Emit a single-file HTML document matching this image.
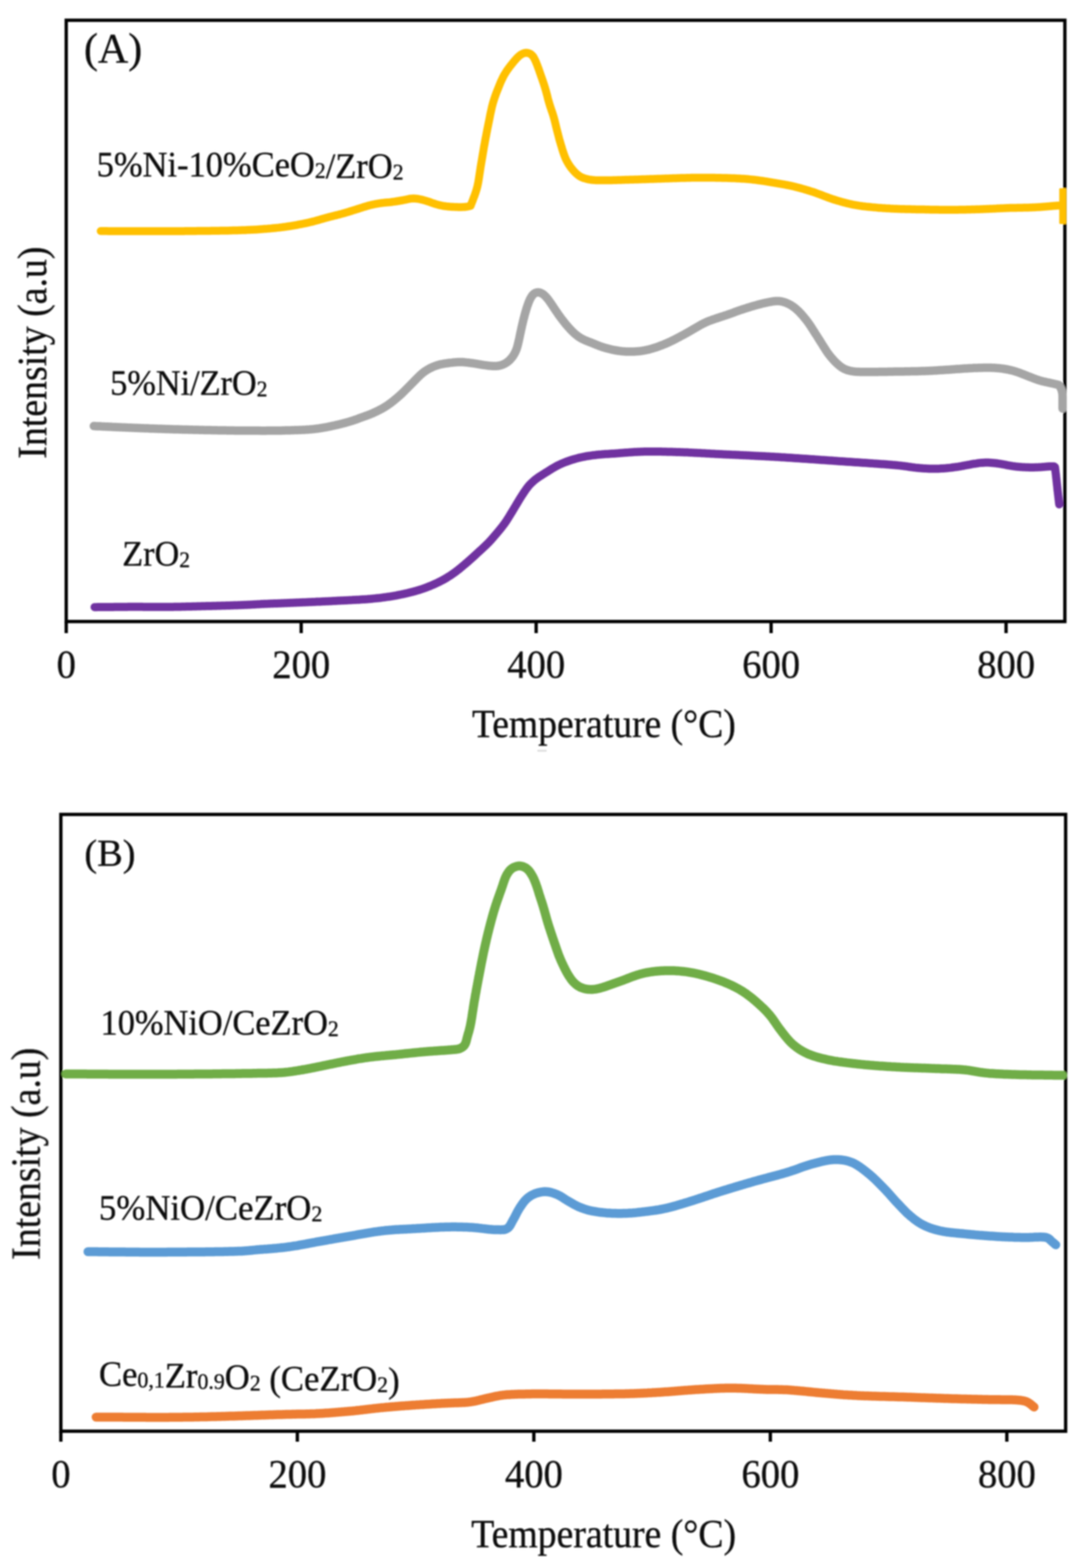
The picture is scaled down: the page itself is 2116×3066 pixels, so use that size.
<!DOCTYPE html>
<html><head><meta charset="utf-8"><title>TPR profiles</title>
<style>html,body{margin:0;padding:0;background:#fff;width:2116px;height:3066px;overflow:hidden}svg{display:block}
text{font-family:"Liberation Serif","Times New Roman",serif;fill:#111;stroke:#111;stroke-width:0.6}</style></head>
<body><svg width="2116" height="3066" viewBox="0 0 2116 3066"><defs><filter id="b" filterUnits="userSpaceOnUse" x="0" y="0" width="2116" height="3066"><feGaussianBlur stdDeviation="1.4"/></filter></defs><rect width="2116" height="3066" fill="#fff"/><g filter="url(#b)"><rect x="129.5" y="39.6" width="1953.0" height="1175.7" fill="none" stroke="#000" stroke-width="6.5"/><line x1="129.5" y1="1215.3" x2="129.5" y2="1238.0" stroke="#000" stroke-width="6.5"/><line x1="589.0" y1="1215.3" x2="589.0" y2="1238.0" stroke="#000" stroke-width="6.5"/><line x1="1048.5" y1="1215.3" x2="1048.5" y2="1238.0" stroke="#000" stroke-width="6.5"/><line x1="1508.0" y1="1215.3" x2="1508.0" y2="1238.0" stroke="#000" stroke-width="6.5"/><line x1="1967.5" y1="1215.3" x2="1967.5" y2="1238.0" stroke="#000" stroke-width="6.5"/><rect x="119.0" y="1592.5" width="1965.0" height="1206.0" fill="none" stroke="#000" stroke-width="6.5"/><line x1="119.0" y1="2798.5" x2="119.0" y2="2819.0" stroke="#000" stroke-width="6.5"/><line x1="581.5" y1="2798.5" x2="581.5" y2="2819.0" stroke="#000" stroke-width="6.5"/><line x1="1044.0" y1="2798.5" x2="1044.0" y2="2819.0" stroke="#000" stroke-width="6.5"/><line x1="1506.5" y1="2798.5" x2="1506.5" y2="2819.0" stroke="#000" stroke-width="6.5"/><line x1="1969.0" y1="2798.5" x2="1969.0" y2="2819.0" stroke="#000" stroke-width="6.5"/><path d="M197.0,451.8L200.0,451.8L203.0,451.8L206.0,451.8L209.0,451.8L212.0,451.9L215.0,451.9L218.0,451.9L221.0,451.9L224.0,451.9L227.0,451.9L230.0,451.9L233.0,451.9L236.0,451.9L239.0,451.9L242.0,452.0L245.0,452.0L248.1,452.0L251.1,452.0L254.1,452.0L257.1,452.0L260.1,452.0L263.1,452.0L266.1,452.0L269.1,452.0L272.1,452.0L275.1,452.0L278.1,452.0L281.1,452.0L284.1,452.0L287.1,452.0L290.1,452.0L293.1,452.0L296.1,452.0L299.1,452.0L302.1,452.0L305.1,452.0L308.1,452.0L311.1,452.0L314.1,452.0L317.1,452.0L320.1,452.0L323.1,452.0L326.1,452.0L329.1,452.0L332.1,452.0L335.1,452.0L338.1,452.0L341.1,452.0L344.1,451.9L347.1,451.9L350.2,451.9L353.2,451.9L356.2,451.9L359.2,451.9L362.2,451.8L365.2,451.8L368.2,451.8L371.2,451.8L374.2,451.8L377.2,451.7L380.2,451.7L383.2,451.7L386.2,451.6L389.2,451.6L392.2,451.6L395.2,451.6L398.2,451.5L401.2,451.5L404.2,451.5L407.2,451.4L410.2,451.4L413.2,451.3L416.2,451.3L419.2,451.3L422.2,451.2L425.2,451.2L428.2,451.2L431.2,451.1L434.2,451.1L437.2,451.0L440.2,451.0L443.2,450.9L446.2,450.9L449.2,450.8L452.2,450.7L455.2,450.6L458.2,450.5L461.2,450.5L464.3,450.4L467.3,450.3L470.3,450.2L473.3,450.1L476.3,450.0L479.3,449.9L482.3,449.7L485.3,449.6L488.3,449.5L491.3,449.3L494.3,449.2L497.3,449.0L500.3,448.9L503.3,448.7L506.2,448.5L509.2,448.3L512.2,448.1L515.2,447.8L518.2,447.6L521.2,447.4L524.2,447.1L527.2,446.9L530.2,446.6L533.2,446.3L536.2,446.0L539.2,445.7L542.2,445.4L545.1,445.1L548.1,444.7L551.1,444.4L554.1,444.0L557.1,443.6L560.0,443.2L563.0,442.7L566.0,442.3L568.9,441.8L571.9,441.3L574.9,440.8L577.8,440.3L580.8,439.8L583.7,439.2L586.7,438.7L589.6,438.1L592.6,437.5L595.5,436.9L598.4,436.3L601.4,435.7L604.3,435.0L607.2,434.3L610.2,433.6L613.1,432.9L616.0,432.1L618.9,431.3L621.8,430.5L624.6,429.7L627.5,428.8L630.4,428.0L633.3,427.2L636.2,426.3L639.1,425.6L642.0,424.8L644.9,424.0L647.8,423.3L650.7,422.6L653.6,421.8L656.5,421.1L659.5,420.4L662.4,419.6L665.3,418.9L668.2,418.1L671.1,417.3L673.9,416.5L676.8,415.6L679.7,414.8L682.6,413.9L685.4,413.0L688.3,412.1L691.2,411.2L694.0,410.3L696.9,409.4L699.8,408.5L702.6,407.6L705.5,406.7L708.4,405.8L711.2,404.8L714.1,404.0L717.0,403.1L719.8,402.3L722.7,401.5L725.7,400.8L728.6,400.1L731.5,399.5L734.5,398.9L737.4,398.4L740.4,397.9L743.4,397.4L746.3,397.0L749.3,396.6L752.3,396.3L755.3,396.0L758.3,395.7L761.3,395.5L764.3,395.2L767.2,394.8L770.2,394.4L773.2,394.0L776.1,393.5L779.1,393.0L782.1,392.5L785.0,392.0L788.0,391.5L790.9,390.9L793.9,390.3L796.8,389.7L799.7,389.0L802.7,388.5L805.7,388.2L808.7,388.1L811.7,388.2L814.6,388.5L817.6,388.9L820.6,389.5L823.5,390.1L826.4,390.8L829.3,391.6L832.2,392.4L835.1,393.3L837.9,394.2L840.8,395.2L843.6,396.2L846.4,397.2L849.3,398.2L852.1,399.1L855.0,399.9L857.9,400.7L860.8,401.4L863.8,402.0L866.7,402.6L869.7,403.0L872.7,403.4L875.6,403.7L878.6,404.0L881.6,404.2L884.6,404.4L887.6,404.6L890.6,404.7L893.6,404.8L896.6,404.9L899.6,404.9L902.6,404.9L905.6,404.8L908.6,404.7L911.6,404.3L914.5,403.8L917.5,403.2L920.4,402.5L921.4,399.7L922.5,396.9L923.6,394.1L924.7,391.3L925.7,388.5L926.8,385.7L927.9,382.9L928.9,380.0L929.9,377.2L930.8,374.4L931.7,371.5L932.5,368.6L933.3,365.7L934.0,362.8L934.6,359.9L935.2,356.9L935.7,354.0L936.2,351.0L936.7,348.0L937.1,345.1L937.6,342.1L938.0,339.1L938.5,336.2L938.9,333.2L939.4,330.2L939.8,327.3L940.3,324.3L940.8,321.3L941.3,318.4L941.8,315.4L942.3,312.5L942.8,309.5L943.3,306.5L943.8,303.6L944.3,300.6L944.8,297.7L945.3,294.7L945.8,291.7L946.3,288.8L946.8,285.8L947.4,282.9L947.9,279.9L948.4,277.0L949.0,274.0L949.5,271.1L950.1,268.1L950.7,265.2L951.2,262.2L951.8,259.3L952.4,256.3L952.9,253.4L953.5,250.5L954.1,247.5L954.7,244.6L955.3,241.6L955.9,238.7L956.5,235.7L957.1,232.8L957.7,229.9L958.2,226.9L958.8,224.0L959.4,221.0L960.1,218.1L960.7,215.2L961.4,212.2L962.0,209.3L962.8,206.4L963.5,203.5L964.3,200.6L965.2,197.7L966.1,194.9L967.0,192.0L968.0,189.2L969.0,186.4L970.0,183.5L971.1,180.7L972.2,177.9L973.3,175.1L974.4,172.3L975.5,169.6L976.6,166.8L977.8,164.0L978.9,161.2L980.1,158.5L981.4,155.8L982.7,153.1L984.0,150.4L985.4,147.7L986.9,145.1L988.5,142.6L990.1,140.0L991.7,137.5L993.5,135.1L995.2,132.7L997.0,130.3L998.9,127.9L1000.8,125.5L1002.6,123.2L1004.5,120.9L1006.4,118.6L1008.4,116.3L1010.4,114.1L1012.5,111.9L1014.7,109.9L1017.0,108.0L1019.5,106.4L1022.1,105.0L1024.9,103.9L1027.7,103.3L1030.7,103.3L1033.5,103.9L1036.3,105.0L1038.8,106.5L1040.9,108.5L1042.8,110.8L1044.3,113.3L1045.7,116.0L1047.0,118.7L1048.2,121.4L1049.3,124.2L1050.5,127.0L1051.5,129.8L1052.5,132.6L1053.6,135.4L1054.6,138.3L1055.5,141.1L1056.5,143.9L1057.5,146.8L1058.5,149.6L1059.5,152.4L1060.5,155.3L1061.5,158.1L1062.4,160.9L1063.4,163.8L1064.3,166.6L1065.2,169.5L1066.1,172.4L1066.9,175.2L1067.8,178.1L1068.5,181.0L1069.3,183.9L1070.1,186.8L1070.8,189.7L1071.5,192.7L1072.3,195.6L1073.1,198.4L1073.9,201.3L1074.8,204.2L1075.7,207.1L1076.6,209.9L1077.6,212.8L1078.5,215.6L1079.5,218.4L1080.5,221.3L1081.4,224.2L1082.3,227.0L1083.1,229.9L1083.9,232.8L1084.7,235.7L1085.4,238.6L1086.1,241.5L1086.8,244.4L1087.5,247.4L1088.2,250.3L1088.9,253.2L1089.7,256.1L1090.4,259.0L1091.2,261.9L1091.9,264.8L1092.7,267.7L1093.4,270.6L1094.2,273.5L1095.0,276.4L1095.9,279.3L1096.7,282.2L1097.6,285.0L1098.5,287.9L1099.3,290.8L1100.2,293.6L1101.1,296.5L1102.1,299.4L1103.0,302.2L1104.1,305.0L1105.2,307.8L1106.4,310.6L1107.7,313.3L1109.0,315.9L1110.5,318.5L1112.1,321.1L1113.7,323.6L1115.4,326.1L1117.2,328.5L1119.1,330.8L1121.0,333.1L1123.0,335.3L1125.1,337.5L1127.3,339.6L1129.5,341.5L1131.9,343.3L1134.4,345.0L1137.0,346.4L1139.8,347.6L1142.6,348.6L1145.5,349.4L1148.4,350.2L1151.3,350.8L1154.3,351.3L1157.2,351.7L1160.2,352.1L1163.2,352.3L1166.2,352.4L1169.2,352.5L1172.2,352.5L1175.2,352.5L1178.2,352.5L1181.2,352.5L1184.2,352.5L1187.2,352.5L1190.2,352.5L1193.2,352.4L1196.2,352.4L1199.2,352.3L1202.2,352.2L1205.2,352.2L1208.2,352.1L1211.2,352.0L1214.2,351.9L1217.2,351.8L1220.2,351.7L1223.2,351.6L1226.2,351.5L1229.2,351.4L1232.2,351.3L1235.2,351.3L1238.2,351.2L1241.2,351.1L1244.2,351.0L1247.2,350.9L1250.2,350.8L1253.2,350.7L1256.2,350.6L1259.2,350.5L1262.2,350.4L1265.2,350.3L1268.2,350.2L1271.2,350.1L1274.2,350.0L1277.2,349.9L1280.2,349.8L1283.2,349.7L1286.2,349.6L1289.2,349.5L1292.2,349.4L1295.2,349.3L1298.2,349.2L1301.2,349.1L1304.2,349.0L1307.2,348.9L1310.2,348.8L1313.2,348.7L1316.2,348.6L1319.2,348.5L1322.2,348.4L1325.2,348.3L1328.2,348.2L1331.2,348.1L1334.2,348.0L1337.2,347.9L1340.2,347.9L1343.2,347.8L1346.2,347.7L1349.2,347.7L1352.2,347.6L1355.2,347.6L1358.2,347.5L1361.2,347.5L1364.2,347.5L1367.2,347.5L1370.2,347.5L1373.2,347.5L1376.2,347.5L1379.2,347.5L1382.2,347.5L1385.2,347.5L1388.2,347.5L1391.2,347.5L1394.2,347.6L1397.2,347.6L1400.2,347.7L1403.2,347.7L1406.2,347.8L1409.2,347.8L1412.2,347.9L1415.2,348.0L1418.2,348.0L1421.2,348.1L1424.2,348.2L1427.2,348.3L1430.2,348.4L1433.2,348.5L1436.2,348.6L1439.2,348.7L1442.2,348.9L1445.2,349.0L1448.2,349.2L1451.2,349.4L1454.2,349.6L1457.2,349.8L1460.2,350.0L1463.2,350.3L1466.1,350.6L1469.1,350.9L1472.1,351.2L1475.1,351.5L1478.1,351.9L1481.0,352.3L1484.0,352.7L1487.0,353.1L1490.0,353.5L1492.9,353.9L1495.9,354.4L1498.9,354.8L1501.8,355.3L1504.8,355.8L1507.7,356.3L1510.7,356.9L1513.7,357.4L1516.6,357.9L1519.6,358.4L1522.5,358.9L1525.5,359.4L1528.4,359.9L1531.4,360.4L1534.4,360.9L1537.3,361.5L1540.3,362.0L1543.2,362.6L1546.1,363.2L1549.1,363.8L1552.0,364.5L1554.9,365.2L1557.8,366.0L1560.7,366.7L1563.6,367.5L1566.5,368.3L1569.4,369.1L1572.3,369.9L1575.2,370.8L1578.0,371.6L1580.9,372.5L1583.8,373.4L1586.6,374.3L1589.5,375.2L1592.4,376.2L1595.2,377.1L1598.0,378.2L1600.8,379.2L1603.6,380.2L1606.4,381.3L1609.2,382.4L1612.0,383.5L1614.9,384.5L1617.7,385.6L1620.5,386.6L1623.3,387.7L1626.1,388.6L1629.0,389.6L1631.8,390.5L1634.7,391.4L1637.6,392.3L1640.5,393.1L1643.3,393.9L1646.2,394.8L1649.1,395.6L1652.0,396.3L1654.9,397.1L1657.8,397.8L1660.8,398.5L1663.7,399.1L1666.6,399.8L1669.6,400.4L1672.5,400.9L1675.5,401.4L1678.4,401.9L1681.4,402.4L1684.4,402.8L1687.3,403.2L1690.3,403.5L1693.3,403.9L1696.3,404.2L1699.3,404.5L1702.3,404.8L1705.2,405.1L1708.2,405.4L1711.2,405.6L1714.2,405.9L1717.2,406.2L1720.2,406.4L1723.2,406.6L1726.2,406.9L1729.2,407.1L1732.2,407.3L1735.2,407.4L1738.2,407.6L1741.2,407.8L1744.2,407.9L1747.1,408.1L1750.1,408.2L1753.1,408.3L1756.1,408.4L1759.1,408.6L1762.1,408.7L1765.1,408.8L1768.1,408.8L1771.1,408.9L1774.1,409.0L1777.1,409.1L1780.1,409.1L1783.1,409.2L1786.1,409.2L1789.1,409.3L1792.1,409.4L1795.1,409.4L1798.1,409.5L1801.1,409.5L1804.1,409.6L1807.1,409.6L1810.1,409.7L1813.1,409.8L1816.1,409.8L1819.1,409.9L1822.1,409.9L1825.1,410.0L1828.1,410.0L1831.2,410.1L1834.2,410.1L1837.2,410.2L1840.2,410.2L1843.2,410.2L1846.2,410.3L1849.2,410.3L1852.2,410.3L1855.2,410.3L1858.2,410.3L1861.2,410.3L1864.2,410.3L1867.2,410.2L1870.2,410.2L1873.2,410.2L1876.2,410.1L1879.2,410.1L1882.2,410.0L1885.2,410.0L1888.2,409.9L1891.2,409.8L1894.2,409.8L1897.2,409.7L1900.2,409.6L1903.2,409.5L1906.2,409.4L1909.2,409.3L1912.2,409.3L1915.2,409.2L1918.2,409.1L1921.2,409.0L1924.2,408.8L1927.2,408.7L1930.2,408.6L1933.2,408.5L1936.2,408.3L1939.2,408.2L1942.2,408.1L1945.1,407.9L1948.1,407.8L1951.1,407.6L1954.1,407.5L1957.1,407.3L1960.1,407.2L1963.1,407.1L1966.1,406.9L1969.1,406.8L1972.1,406.7L1975.1,406.6L1978.1,406.6L1981.1,406.5L1984.1,406.4L1987.1,406.4L1990.1,406.3L1993.1,406.3L1996.1,406.2L1999.1,406.2L2002.1,406.1L2005.1,406.0L2008.1,406.0L2011.1,405.9L2014.1,405.8L2017.1,405.7L2020.1,405.5L2023.1,405.4L2026.1,405.2L2029.1,405.1L2032.1,404.9L2035.1,404.7L2038.1,404.5L2041.1,404.3L2044.1,404.1L2047.1,403.8L2050.1,403.6L2053.1,403.3L2056.0,403.0L2059.0,402.7L2062.0,402.4L2065.0,402.2L2068.0,402.0L2071.0,402.0L2074.0,402.0" fill="none" stroke="#FFC000" stroke-width="15.5" stroke-linecap="round" stroke-linejoin="round"/><path d="M183.5,833.1L186.5,833.2L189.5,833.4L192.5,833.5L195.5,833.6L198.5,833.8L201.5,833.9L204.5,834.1L207.5,834.2L210.5,834.3L213.5,834.5L216.5,834.6L219.5,834.8L222.5,834.9L225.5,835.0L228.5,835.2L231.5,835.3L234.5,835.4L237.5,835.6L240.5,835.7L243.5,835.8L246.5,835.9L249.5,836.1L252.5,836.2L255.4,836.3L258.4,836.4L261.4,836.6L264.4,836.7L267.4,836.8L270.4,836.9L273.4,837.0L276.4,837.2L279.4,837.3L282.4,837.4L285.4,837.5L288.4,837.6L291.4,837.7L294.4,837.9L297.4,838.0L300.4,838.1L303.4,838.2L306.4,838.3L309.4,838.4L312.4,838.5L315.4,838.6L318.4,838.7L321.4,838.8L324.4,838.9L327.4,839.0L330.4,839.1L333.4,839.2L336.4,839.3L339.4,839.4L342.4,839.5L345.4,839.5L348.4,839.6L351.4,839.7L354.4,839.8L357.4,839.9L360.4,840.0L363.4,840.0L366.4,840.1L369.4,840.2L372.4,840.3L375.4,840.3L378.4,840.4L381.4,840.5L384.4,840.6L387.4,840.6L390.4,840.7L393.4,840.8L396.4,840.8L399.4,840.9L402.4,840.9L405.4,841.0L408.4,841.1L411.4,841.1L414.4,841.2L417.4,841.2L420.4,841.3L423.4,841.3L426.4,841.4L429.4,841.4L432.4,841.5L435.4,841.5L438.4,841.6L441.4,841.6L444.4,841.7L447.4,841.7L450.4,841.8L453.4,841.8L456.4,841.8L459.4,841.9L462.4,841.9L465.4,841.9L468.4,842.0L471.4,842.0L474.4,842.0L477.4,842.0L480.4,842.1L483.4,842.1L486.4,842.1L489.4,842.1L492.4,842.1L495.4,842.1L498.4,842.1L501.4,842.1L504.4,842.1L507.4,842.1L510.4,842.2L513.4,842.2L516.4,842.2L519.4,842.2L522.4,842.1L525.4,842.1L528.4,842.1L531.4,842.1L534.4,842.1L537.4,842.0L540.4,842.0L543.5,842.0L546.5,841.9L549.5,841.9L552.5,841.8L555.5,841.7L558.5,841.6L561.5,841.6L564.5,841.5L567.5,841.4L570.4,841.3L573.4,841.2L576.4,841.1L579.4,841.0L582.4,840.9L585.4,840.8L588.4,840.7L591.4,840.6L594.4,840.4L597.4,840.3L600.4,840.1L603.4,839.9L606.4,839.6L609.4,839.4L612.4,839.1L615.4,838.8L618.4,838.4L621.3,838.0L624.3,837.6L627.3,837.1L630.2,836.6L633.2,836.1L636.1,835.6L639.1,835.1L642.0,834.5L645.0,833.9L647.9,833.3L650.8,832.6L653.8,832.0L656.7,831.3L659.6,830.7L662.5,830.0L665.5,829.3L668.4,828.5L671.3,827.8L674.2,827.0L677.1,826.2L680.0,825.4L682.8,824.6L685.7,823.7L688.6,822.8L691.4,821.9L694.3,820.9L697.1,819.9L699.9,818.9L702.7,817.8L705.5,816.8L708.4,815.8L711.2,814.8L714.0,813.8L716.8,812.7L719.6,811.7L722.4,810.6L725.2,809.5L728.0,808.3L730.7,807.1L733.5,805.8L736.2,804.6L738.9,803.3L741.6,801.9L744.2,800.5L746.9,799.1L749.5,797.6L752.0,796.1L754.6,794.5L757.1,792.9L759.6,791.2L762.0,789.4L764.4,787.7L766.8,785.9L769.2,784.0L771.5,782.1L773.8,780.2L776.1,778.3L778.4,776.3L780.6,774.3L782.9,772.3L785.1,770.3L787.2,768.2L789.4,766.1L791.5,764.0L793.6,761.9L795.8,759.8L797.9,757.6L800.0,755.5L802.1,753.4L804.2,751.2L806.3,749.1L808.4,747.0L810.5,744.8L812.6,742.7L814.7,740.5L816.8,738.4L819.0,736.3L821.1,734.2L823.3,732.2L825.6,730.2L827.9,728.3L830.3,726.6L832.8,724.9L835.3,723.3L837.9,721.7L840.5,720.3L843.2,719.0L845.9,717.7L848.7,716.5L851.5,715.5L854.3,714.5L857.2,713.6L860.0,712.8L863.0,712.1L865.9,711.6L868.9,711.0L871.8,710.6L874.8,710.2L877.8,709.8L880.7,709.4L883.7,709.1L886.7,708.7L889.7,708.4L892.7,708.2L895.7,708.1L898.7,708.0L901.7,708.0L904.7,708.1L907.6,708.3L910.6,708.6L913.6,708.9L916.6,709.2L919.6,709.6L922.5,710.0L925.5,710.4L928.5,710.9L931.5,711.3L934.4,711.8L937.4,712.3L940.3,712.8L943.3,713.3L946.3,713.8L949.2,714.2L952.2,714.6L955.2,715.0L958.2,715.3L961.1,715.5L964.1,715.7L967.1,715.8L970.1,715.7L973.1,715.5L976.0,715.0L978.9,714.4L981.7,713.5L984.5,712.4L987.1,711.1L989.7,709.6L992.2,707.9L994.5,706.1L996.7,704.1L998.7,701.9L1000.7,699.6L1002.5,697.3L1004.2,694.8L1005.7,692.3L1007.2,689.6L1008.4,686.9L1009.6,684.2L1010.6,681.4L1011.5,678.5L1012.3,675.6L1013.0,672.7L1013.7,669.8L1014.4,666.9L1015.0,664.0L1015.7,661.0L1016.3,658.1L1016.9,655.2L1017.5,652.2L1018.2,649.3L1018.8,646.4L1019.4,643.4L1020.1,640.5L1020.7,637.6L1021.4,634.6L1022.1,631.7L1022.8,628.8L1023.5,625.9L1024.2,623.0L1025.0,620.1L1025.7,617.2L1026.5,614.3L1027.3,611.4L1028.2,608.5L1029.0,605.6L1029.9,602.8L1030.8,599.9L1031.8,597.1L1032.8,594.2L1033.8,591.4L1035.0,588.6L1036.2,585.9L1037.5,583.2L1039.0,580.7L1040.6,578.2L1042.5,576.0L1044.6,574.2L1047.0,572.8L1049.5,571.9L1052.2,571.6L1054.9,571.9L1057.6,572.8L1060.2,574.1L1062.6,575.7L1064.8,577.6L1067.0,579.7L1069.0,581.9L1070.9,584.2L1072.7,586.5L1074.5,589.0L1076.2,591.4L1077.9,593.9L1079.6,596.4L1081.2,598.9L1082.9,601.4L1084.5,603.9L1086.2,606.4L1087.9,608.9L1089.6,611.3L1091.3,613.8L1093.0,616.3L1094.8,618.7L1096.5,621.1L1098.3,623.5L1100.2,625.9L1102.0,628.3L1103.9,630.6L1105.7,633.0L1107.7,635.3L1109.6,637.6L1111.6,639.8L1113.6,642.0L1115.6,644.2L1117.7,646.4L1119.8,648.5L1122.0,650.6L1124.2,652.6L1126.5,654.5L1128.8,656.4L1131.2,658.2L1133.7,659.8L1136.3,661.4L1138.9,662.8L1141.6,664.1L1144.3,665.4L1147.1,666.5L1149.9,667.6L1152.7,668.7L1155.5,669.8L1158.3,670.9L1161.0,672.0L1163.8,673.1L1166.6,674.3L1169.4,675.4L1172.2,676.5L1175.0,677.5L1177.8,678.5L1180.7,679.4L1183.6,680.2L1186.4,681.0L1189.4,681.8L1192.3,682.5L1195.2,683.2L1198.1,683.9L1201.0,684.5L1204.0,685.0L1206.9,685.5L1209.9,686.0L1212.9,686.4L1215.9,686.8L1218.8,687.1L1221.8,687.3L1224.8,687.5L1227.8,687.6L1230.8,687.6L1233.8,687.6L1236.8,687.6L1239.8,687.5L1242.8,687.3L1245.8,687.1L1248.8,686.8L1251.8,686.5L1254.7,686.1L1257.7,685.6L1260.7,685.1L1263.6,684.5L1266.5,683.9L1269.4,683.2L1272.3,682.4L1275.2,681.6L1278.1,680.7L1281.0,679.8L1283.8,678.9L1286.6,677.9L1289.5,676.9L1292.3,675.8L1295.1,674.7L1297.9,673.6L1300.6,672.5L1303.4,671.3L1306.1,670.1L1308.9,668.9L1311.6,667.6L1314.3,666.3L1317.0,665.0L1319.7,663.6L1322.3,662.2L1325.0,660.8L1327.6,659.4L1330.3,658.0L1332.9,656.6L1335.6,655.2L1338.2,653.8L1340.8,652.3L1343.5,650.9L1346.1,649.4L1348.7,647.9L1351.3,646.4L1353.9,644.9L1356.4,643.3L1359.0,641.8L1361.6,640.3L1364.2,638.8L1366.8,637.3L1369.4,635.8L1372.1,634.4L1374.7,633.0L1377.4,631.7L1380.1,630.4L1382.9,629.2L1385.6,628.0L1388.4,626.9L1391.2,625.9L1394.1,624.9L1396.9,623.9L1399.7,622.9L1402.6,622.0L1405.4,621.1L1408.3,620.1L1411.1,619.2L1414.0,618.3L1416.8,617.3L1419.7,616.4L1422.5,615.4L1425.4,614.4L1428.2,613.4L1431.0,612.4L1433.8,611.4L1436.7,610.3L1439.5,609.3L1442.3,608.3L1445.1,607.3L1448.0,606.3L1450.8,605.4L1453.7,604.4L1456.5,603.5L1459.4,602.6L1462.2,601.7L1465.1,600.8L1468.0,599.9L1470.8,599.0L1473.7,598.2L1476.6,597.4L1479.5,596.6L1482.4,595.8L1485.3,595.0L1488.2,594.2L1491.1,593.5L1494.0,592.8L1497.0,592.2L1499.9,591.6L1502.8,590.9L1505.8,590.4L1508.7,589.8L1511.7,589.3L1514.6,589.0L1517.6,588.7L1520.6,588.7L1523.5,588.8L1526.5,589.1L1529.4,589.7L1532.3,590.4L1535.1,591.3L1537.9,592.4L1540.7,593.6L1543.4,594.9L1546.0,596.3L1548.5,597.9L1551.0,599.6L1553.4,601.3L1555.8,603.2L1558.0,605.1L1560.2,607.2L1562.4,609.2L1564.5,611.4L1566.5,613.6L1568.5,615.8L1570.5,618.1L1572.4,620.4L1574.3,622.7L1576.2,625.0L1578.0,627.4L1579.8,629.8L1581.6,632.3L1583.3,634.7L1585.0,637.2L1586.6,639.7L1588.2,642.2L1589.8,644.8L1591.4,647.3L1593.0,649.8L1594.6,652.4L1596.3,654.9L1597.9,657.4L1599.5,660.0L1601.1,662.5L1602.7,665.0L1604.3,667.6L1605.9,670.1L1607.5,672.6L1609.1,675.2L1610.7,677.7L1612.3,680.3L1613.9,682.8L1615.5,685.3L1617.2,687.8L1618.9,690.3L1620.7,692.7L1622.5,695.1L1624.4,697.4L1626.3,699.7L1628.3,702.0L1630.3,704.2L1632.3,706.4L1634.4,708.5L1636.6,710.6L1638.8,712.6L1641.1,714.6L1643.4,716.4L1645.9,718.2L1648.4,719.8L1651.0,721.2L1653.7,722.4L1656.5,723.5L1659.3,724.3L1662.2,725.1L1665.1,725.6L1668.1,726.1L1671.1,726.5L1674.0,726.8L1677.0,727.0L1680.0,727.1L1683.0,727.2L1686.0,727.2L1689.0,727.3L1692.0,727.3L1695.0,727.3L1698.0,727.3L1701.0,727.3L1704.0,727.3L1707.0,727.3L1710.0,727.3L1713.0,727.2L1716.0,727.2L1719.0,727.1L1722.0,727.1L1725.0,727.0L1728.0,727.0L1731.0,726.9L1734.0,726.9L1737.0,726.8L1740.0,726.8L1743.0,726.7L1746.0,726.7L1749.0,726.6L1752.0,726.6L1755.0,726.5L1758.0,726.5L1761.0,726.4L1764.0,726.4L1767.0,726.4L1770.0,726.3L1773.0,726.3L1776.0,726.2L1779.0,726.2L1782.0,726.1L1785.0,726.1L1788.0,726.0L1791.0,725.9L1794.0,725.9L1797.0,725.8L1800.0,725.7L1803.0,725.6L1806.0,725.5L1809.0,725.4L1812.0,725.3L1815.0,725.2L1818.0,725.0L1821.0,724.9L1824.0,724.7L1827.0,724.6L1830.0,724.4L1833.0,724.2L1836.0,724.0L1839.0,723.8L1842.0,723.7L1845.0,723.5L1848.0,723.3L1851.0,723.1L1854.0,722.9L1857.0,722.7L1860.0,722.5L1863.0,722.3L1866.0,722.1L1868.9,721.8L1871.9,721.6L1874.9,721.4L1877.9,721.2L1880.9,721.0L1883.9,720.8L1886.9,720.6L1889.9,720.4L1892.9,720.2L1895.9,720.0L1898.9,719.9L1901.9,719.8L1904.9,719.6L1907.9,719.5L1910.9,719.4L1913.9,719.3L1916.9,719.3L1919.9,719.2L1922.9,719.1L1925.9,719.1L1928.9,719.1L1931.9,719.1L1934.9,719.1L1937.9,719.1L1940.9,719.2L1943.9,719.3L1946.9,719.5L1949.9,719.7L1952.9,719.9L1955.8,720.2L1958.8,720.6L1961.8,721.0L1964.8,721.5L1967.7,722.0L1970.7,722.5L1973.6,723.2L1976.5,723.8L1979.4,724.6L1982.3,725.3L1985.2,726.2L1988.1,727.1L1990.9,728.0L1993.7,729.0L1996.5,730.1L1999.3,731.2L2002.1,732.3L2004.9,733.4L2007.7,734.5L2010.5,735.6L2013.3,736.7L2016.1,737.8L2018.9,738.9L2021.7,740.0L2024.5,741.0L2027.3,742.0L2030.1,743.0L2033.0,743.9L2035.9,744.7L2038.8,745.5L2041.7,746.2L2044.6,746.8L2047.6,747.5L2050.5,748.1L2053.4,748.7L2056.3,749.4L2059.3,750.0L2062.2,750.7L2065.1,751.4L2068.1,752.0L2071.1,753.1L2072.6,755.6L2074.1,758.2L2075.4,760.8L2076.4,763.6L2077.1,766.5L2077.6,769.5L2077.9,772.5L2078.0,775.6L2078.0,778.6L2078.0,781.7L2078.0,784.7L2078.0,787.8L2078.0,790.8L2078.0,793.9L2078.0,797.0L2078.0,799.0" fill="none" stroke="#A5A5A5" stroke-width="16.5" stroke-linecap="round" stroke-linejoin="round"/><path d="M185.0,1187.2L188.0,1187.2L191.0,1187.1L194.0,1187.1L197.0,1187.1L200.0,1187.1L203.0,1187.0L206.0,1187.0L209.0,1187.0L212.0,1187.0L215.0,1186.9L218.0,1186.9L221.0,1186.9L224.0,1186.8L227.0,1186.8L230.0,1186.8L233.0,1186.8L236.0,1186.7L239.0,1186.7L242.0,1186.7L245.0,1186.7L248.0,1186.7L251.0,1186.6L254.0,1186.6L257.0,1186.6L260.0,1186.6L263.0,1186.6L266.0,1186.6L269.0,1186.6L272.0,1186.6L275.0,1186.6L278.0,1186.6L281.0,1186.7L284.0,1186.7L287.0,1186.7L290.0,1186.7L293.0,1186.7L296.0,1186.8L299.0,1186.8L302.0,1186.8L305.0,1186.8L308.0,1186.8L311.0,1186.8L314.0,1186.8L317.0,1186.8L320.0,1186.8L323.0,1186.8L326.0,1186.8L329.0,1186.8L332.0,1186.8L335.0,1186.7L338.0,1186.7L341.0,1186.6L344.0,1186.6L347.0,1186.5L350.0,1186.5L353.0,1186.4L356.0,1186.3L359.0,1186.3L362.0,1186.2L365.0,1186.1L368.0,1186.1L371.0,1186.0L374.0,1185.9L377.0,1185.8L380.0,1185.7L383.0,1185.7L386.0,1185.6L389.0,1185.5L392.0,1185.4L395.0,1185.3L398.0,1185.3L401.0,1185.2L404.0,1185.1L407.0,1185.0L410.0,1185.0L413.0,1184.9L416.0,1184.8L419.0,1184.7L422.0,1184.7L425.0,1184.6L428.0,1184.5L431.0,1184.4L434.0,1184.3L437.0,1184.3L440.0,1184.2L443.0,1184.1L446.0,1184.0L449.0,1183.9L452.0,1183.8L455.0,1183.7L458.0,1183.6L461.0,1183.5L464.0,1183.4L467.0,1183.3L470.0,1183.2L472.9,1183.1L475.9,1183.0L478.9,1182.8L481.9,1182.7L484.9,1182.5L487.9,1182.4L490.9,1182.2L493.9,1182.1L496.9,1181.9L499.9,1181.7L502.9,1181.6L505.9,1181.4L508.9,1181.3L511.9,1181.1L514.9,1181.0L517.9,1180.8L520.9,1180.7L523.9,1180.6L526.9,1180.4L529.9,1180.3L532.9,1180.2L535.9,1180.1L538.9,1180.0L541.9,1179.9L544.9,1179.8L547.9,1179.7L550.9,1179.5L553.9,1179.4L556.9,1179.3L559.9,1179.2L562.9,1179.1L565.9,1179.0L568.9,1178.8L571.9,1178.7L574.8,1178.6L577.8,1178.5L580.8,1178.3L583.8,1178.2L586.8,1178.1L589.8,1178.0L592.8,1177.8L595.8,1177.7L598.8,1177.6L601.8,1177.4L604.8,1177.3L607.8,1177.2L610.8,1177.0L613.8,1176.9L616.8,1176.8L619.8,1176.6L622.8,1176.5L625.8,1176.4L628.8,1176.2L631.8,1176.1L634.8,1176.0L637.8,1175.8L640.8,1175.7L643.8,1175.5L646.8,1175.4L649.8,1175.2L652.8,1175.1L655.8,1175.0L658.8,1174.8L661.8,1174.6L664.8,1174.5L667.8,1174.3L670.7,1174.2L673.7,1174.0L676.7,1173.9L679.7,1173.7L682.7,1173.6L685.7,1173.4L688.7,1173.3L691.7,1173.1L694.7,1173.0L697.7,1172.8L700.7,1172.7L703.7,1172.5L706.7,1172.3L709.7,1172.1L712.7,1171.9L715.7,1171.7L718.7,1171.5L721.7,1171.2L724.6,1171.0L727.6,1170.7L730.6,1170.4L733.6,1170.1L736.6,1169.8L739.6,1169.5L742.6,1169.2L745.5,1168.8L748.5,1168.4L751.5,1168.0L754.5,1167.6L757.4,1167.2L760.4,1166.8L763.4,1166.3L766.3,1165.8L769.3,1165.3L772.2,1164.8L775.2,1164.3L778.1,1163.7L781.1,1163.1L784.0,1162.5L786.9,1161.9L789.9,1161.3L792.8,1160.6L795.7,1160.0L798.6,1159.3L801.6,1158.5L804.5,1157.8L807.4,1157.1L810.3,1156.3L813.2,1155.5L816.0,1154.6L818.9,1153.8L821.8,1152.9L824.6,1152.0L827.5,1151.0L830.3,1150.0L833.1,1149.0L835.9,1147.9L838.7,1146.8L841.5,1145.7L844.2,1144.5L847.0,1143.3L849.7,1142.1L852.5,1140.9L855.2,1139.6L857.9,1138.3L860.6,1136.9L863.2,1135.6L865.9,1134.2L868.5,1132.7L871.1,1131.2L873.7,1129.7L876.2,1128.1L878.8,1126.5L881.3,1124.9L883.8,1123.2L886.2,1121.5L888.7,1119.7L891.1,1118.0L893.5,1116.2L895.8,1114.3L898.2,1112.5L900.5,1110.6L902.8,1108.7L905.1,1106.7L907.4,1104.8L909.7,1102.9L912.0,1100.9L914.3,1099.0L916.5,1097.0L918.8,1095.0L921.0,1093.0L923.3,1091.0L925.5,1089.0L927.7,1087.0L929.9,1085.0L932.1,1082.9L934.3,1080.9L936.5,1078.9L938.7,1076.8L940.9,1074.8L943.2,1072.8L945.4,1070.7L947.6,1068.7L949.7,1066.6L951.9,1064.5L954.0,1062.4L956.1,1060.3L958.1,1058.1L960.2,1055.9L962.2,1053.6L964.1,1051.4L966.1,1049.1L968.1,1046.8L970.0,1044.6L971.9,1042.3L973.9,1040.0L975.8,1037.7L977.7,1035.4L979.6,1033.0L981.5,1030.7L983.3,1028.3L985.1,1025.9L986.9,1023.5L988.6,1021.0L990.3,1018.6L991.9,1016.0L993.5,1013.5L995.1,1011.0L996.7,1008.4L998.2,1005.9L999.8,1003.3L1001.4,1000.7L1002.9,998.2L1004.5,995.6L1006.0,993.0L1007.5,990.5L1009.1,987.9L1010.6,985.3L1012.2,982.7L1013.7,980.2L1015.3,977.6L1016.8,975.0L1018.4,972.5L1020.0,970.0L1021.6,967.4L1023.3,964.9L1024.9,962.4L1026.6,959.9L1028.3,957.5L1030.1,955.0L1031.9,952.7L1033.8,950.3L1035.7,948.1L1037.8,945.9L1039.9,943.8L1042.1,941.8L1044.3,939.8L1046.6,937.9L1049.0,936.1L1051.4,934.3L1053.9,932.6L1056.4,931.0L1058.9,929.4L1061.4,927.8L1064.0,926.2L1066.5,924.6L1069.1,923.0L1071.6,921.4L1074.2,919.8L1076.7,918.2L1079.2,916.6L1081.8,915.1L1084.4,913.6L1087.0,912.1L1089.7,910.7L1092.3,909.4L1095.0,908.1L1097.8,906.8L1100.5,905.7L1103.3,904.5L1106.1,903.4L1108.9,902.4L1111.7,901.4L1114.5,900.4L1117.4,899.4L1120.3,898.5L1123.1,897.7L1126.0,896.9L1128.9,896.1L1131.8,895.3L1134.7,894.6L1137.6,894.0L1140.6,893.4L1143.5,892.8L1146.5,892.2L1149.4,891.7L1152.4,891.3L1155.4,890.8L1158.3,890.4L1161.3,890.0L1164.3,889.7L1167.3,889.3L1170.2,889.0L1173.2,888.7L1176.2,888.5L1179.2,888.2L1182.2,888.0L1185.2,887.8L1188.2,887.7L1191.2,887.5L1194.2,887.3L1197.2,887.1L1200.2,886.9L1203.2,886.7L1206.1,886.5L1209.1,886.3L1212.1,886.0L1215.1,885.8L1218.1,885.6L1221.1,885.3L1224.1,885.1L1227.1,884.9L1230.1,884.6L1233.1,884.4L1236.1,884.2L1239.0,884.0L1242.0,883.8L1245.0,883.7L1248.0,883.5L1251.0,883.4L1254.0,883.3L1257.0,883.2L1260.0,883.1L1263.0,883.1L1266.0,883.0L1269.0,883.0L1272.0,883.0L1275.0,883.0L1278.0,883.0L1281.0,883.0L1284.0,883.0L1287.0,883.1L1290.0,883.1L1293.0,883.1L1296.0,883.2L1299.0,883.3L1302.0,883.3L1305.0,883.4L1308.0,883.5L1311.0,883.5L1314.0,883.6L1317.0,883.7L1320.0,883.8L1323.0,883.9L1326.0,884.0L1329.0,884.1L1332.0,884.2L1335.0,884.3L1338.0,884.4L1341.0,884.5L1344.0,884.6L1347.0,884.8L1350.0,884.9L1353.0,885.1L1356.0,885.2L1359.0,885.4L1362.0,885.5L1365.0,885.7L1368.0,885.8L1371.0,886.0L1374.0,886.2L1377.0,886.3L1380.0,886.5L1382.9,886.7L1385.9,886.8L1388.9,887.0L1391.9,887.2L1394.9,887.3L1397.9,887.5L1400.9,887.7L1403.9,887.8L1406.9,888.0L1409.9,888.1L1412.9,888.2L1415.9,888.4L1418.9,888.5L1421.9,888.7L1424.9,888.8L1427.9,888.9L1430.9,889.1L1433.9,889.2L1436.9,889.3L1439.9,889.5L1442.9,889.6L1445.9,889.7L1448.9,889.9L1451.9,890.0L1454.9,890.2L1457.9,890.3L1460.9,890.5L1463.9,890.6L1466.9,890.7L1469.8,890.9L1472.8,891.1L1475.8,891.2L1478.8,891.4L1481.8,891.5L1484.8,891.7L1487.8,891.8L1490.8,892.0L1493.8,892.1L1496.8,892.3L1499.8,892.5L1502.8,892.6L1505.8,892.8L1508.8,893.0L1511.8,893.1L1514.8,893.3L1517.8,893.5L1520.8,893.6L1523.8,893.8L1526.8,894.0L1529.8,894.2L1532.8,894.3L1535.7,894.5L1538.7,894.7L1541.7,894.9L1544.7,895.1L1547.7,895.3L1550.7,895.5L1553.7,895.7L1556.7,895.9L1559.7,896.0L1562.7,896.3L1565.7,896.5L1568.7,896.7L1571.7,896.9L1574.7,897.1L1577.7,897.3L1580.7,897.5L1583.6,897.7L1586.6,897.9L1589.6,898.1L1592.6,898.3L1595.6,898.6L1598.6,898.8L1601.6,899.0L1604.6,899.2L1607.6,899.4L1610.6,899.6L1613.6,899.8L1616.6,900.0L1619.6,900.2L1622.5,900.4L1625.5,900.6L1628.5,900.8L1631.5,901.1L1634.5,901.3L1637.5,901.5L1640.5,901.7L1643.5,901.9L1646.5,902.1L1649.5,902.3L1652.5,902.5L1655.5,902.7L1658.5,902.9L1661.5,903.1L1664.5,903.3L1667.4,903.5L1670.4,903.7L1673.4,903.9L1676.4,904.1L1679.4,904.3L1682.4,904.5L1685.4,904.7L1688.4,904.9L1691.4,905.1L1694.4,905.3L1697.4,905.5L1700.4,905.7L1703.4,905.9L1706.4,906.1L1709.3,906.4L1712.3,906.6L1715.3,906.8L1718.3,907.0L1721.3,907.2L1724.3,907.4L1727.3,907.6L1730.3,907.8L1733.3,908.0L1736.3,908.3L1739.3,908.5L1742.3,908.7L1745.3,909.0L1748.2,909.2L1751.2,909.5L1754.2,909.8L1757.2,910.1L1760.2,910.4L1763.2,910.8L1766.1,911.1L1769.1,911.5L1772.1,911.9L1775.1,912.3L1778.0,912.8L1781.0,913.2L1784.0,913.6L1786.9,914.0L1789.9,914.4L1792.9,914.7L1795.9,915.0L1798.9,915.3L1801.8,915.5L1804.8,915.8L1807.8,915.9L1810.8,916.1L1813.8,916.2L1816.8,916.4L1819.8,916.4L1822.8,916.5L1825.8,916.5L1828.8,916.5L1831.8,916.5L1834.8,916.4L1837.8,916.3L1840.8,916.1L1843.8,915.9L1846.8,915.7L1849.8,915.5L1852.8,915.2L1855.7,914.9L1858.7,914.6L1861.7,914.2L1864.7,913.8L1867.7,913.4L1870.6,913.0L1873.6,912.6L1876.5,912.1L1879.5,911.6L1882.5,911.0L1885.4,910.5L1888.4,909.9L1891.3,909.4L1894.2,908.8L1897.2,908.3L1900.1,907.7L1903.1,907.2L1906.1,906.7L1909.0,906.3L1912.0,905.8L1915.0,905.4L1917.9,905.1L1920.9,904.9L1923.9,904.7L1926.9,904.6L1929.9,904.6L1932.9,904.6L1935.9,904.7L1938.9,904.9L1941.8,905.2L1944.8,905.5L1947.8,905.8L1950.8,906.2L1953.7,906.6L1956.7,907.1L1959.7,907.6L1962.6,908.2L1965.6,908.7L1968.5,909.3L1971.4,909.9L1974.4,910.4L1977.3,910.9L1980.3,911.4L1983.3,911.8L1986.2,912.2L1989.2,912.5L1992.2,912.8L1995.2,913.0L1998.2,913.3L2001.2,913.4L2004.2,913.6L2007.2,913.7L2010.2,913.8L2013.2,913.9L2016.2,913.9L2019.2,913.9L2022.2,913.9L2025.2,913.8L2028.2,913.7L2031.2,913.6L2034.1,913.4L2037.1,913.2L2040.1,912.9L2043.1,912.7L2046.1,912.4L2049.1,912.2L2052.0,912.0L2055.0,911.9L2058.0,911.9L2061.0,911.9L2063.1,913.2L2063.5,916.2L2063.9,919.2L2064.2,922.2L2064.6,925.2L2065.0,928.2L2065.3,931.2L2065.6,934.2L2066.0,937.2L2066.3,940.2L2066.6,943.2L2066.9,946.2L2067.3,949.2L2067.6,952.2L2067.9,955.2L2068.2,958.2L2068.6,961.2L2068.9,964.2L2069.3,967.2L2069.6,970.2L2070.0,973.2L2070.3,976.2L2070.7,979.2L2071.0,982.2L2071.4,985.2L2071.5,986.2" fill="none" stroke="#7030A0" stroke-width="16" stroke-linecap="round" stroke-linejoin="round"/><path d="M129.0,2100.0L132.0,2100.0L135.0,2100.0L138.0,2100.0L141.0,2100.0L144.0,2100.0L147.0,2100.1L150.0,2100.1L153.0,2100.1L156.0,2100.1L159.0,2100.1L162.0,2100.1L165.0,2100.1L168.0,2100.1L171.0,2100.2L174.0,2100.2L177.0,2100.2L180.0,2100.2L183.0,2100.2L186.0,2100.2L189.0,2100.2L192.0,2100.3L195.0,2100.3L198.0,2100.3L201.0,2100.3L204.0,2100.3L207.0,2100.3L210.0,2100.3L213.0,2100.4L216.0,2100.4L219.0,2100.4L222.0,2100.4L225.0,2100.4L228.0,2100.4L231.0,2100.4L234.0,2100.4L237.0,2100.5L240.0,2100.5L243.0,2100.5L246.0,2100.5L249.0,2100.5L252.0,2100.5L255.0,2100.5L258.0,2100.5L261.0,2100.5L264.0,2100.5L267.0,2100.5L270.0,2100.5L273.0,2100.5L276.0,2100.5L279.0,2100.5L282.0,2100.5L285.0,2100.5L288.0,2100.5L291.0,2100.5L294.0,2100.5L297.0,2100.5L300.0,2100.5L303.0,2100.5L306.0,2100.5L309.0,2100.5L312.0,2100.5L315.0,2100.5L318.0,2100.5L321.0,2100.5L324.0,2100.5L327.0,2100.5L330.0,2100.4L333.0,2100.4L336.0,2100.4L339.0,2100.4L342.0,2100.4L345.0,2100.4L348.0,2100.3L351.0,2100.3L354.0,2100.3L357.0,2100.3L360.0,2100.3L363.0,2100.3L366.0,2100.2L369.0,2100.2L372.0,2100.2L375.0,2100.2L378.0,2100.2L381.0,2100.1L384.0,2100.1L387.0,2100.1L390.0,2100.1L393.0,2100.0L396.0,2100.0L399.0,2100.0L402.0,2100.0L405.0,2099.9L408.0,2099.9L411.0,2099.9L414.0,2099.9L417.0,2099.8L420.0,2099.8L423.0,2099.8L426.0,2099.7L429.0,2099.7L432.0,2099.7L435.0,2099.6L438.0,2099.6L441.0,2099.6L444.0,2099.5L447.0,2099.5L450.0,2099.5L453.0,2099.4L456.0,2099.4L459.0,2099.4L462.0,2099.3L465.0,2099.3L468.0,2099.2L471.0,2099.2L474.0,2099.1L477.0,2099.1L480.0,2099.1L483.0,2099.0L486.0,2099.0L489.0,2098.9L492.0,2098.9L495.0,2098.8L498.0,2098.7L501.0,2098.7L504.0,2098.6L507.0,2098.6L510.0,2098.5L513.0,2098.5L516.0,2098.4L519.0,2098.4L522.0,2098.4L525.0,2098.3L528.0,2098.3L531.0,2098.2L534.0,2098.1L537.0,2098.0L540.0,2097.9L543.0,2097.8L546.0,2097.6L549.0,2097.4L552.0,2097.2L555.0,2097.0L557.9,2096.7L560.9,2096.4L563.9,2096.1L566.9,2095.7L569.9,2095.3L572.8,2094.9L575.8,2094.4L578.8,2094.0L581.7,2093.5L584.7,2093.0L587.6,2092.5L590.6,2092.0L593.6,2091.5L596.5,2091.0L599.5,2090.5L602.4,2089.9L605.4,2089.4L608.3,2088.8L611.3,2088.2L614.2,2087.6L617.1,2087.0L620.1,2086.4L623.0,2085.8L625.9,2085.2L628.9,2084.6L631.8,2083.9L634.8,2083.3L637.7,2082.7L640.6,2082.1L643.6,2081.5L646.5,2080.9L649.5,2080.3L652.4,2079.7L655.3,2079.1L658.3,2078.5L661.2,2077.9L664.2,2077.3L667.1,2076.7L670.0,2076.2L673.0,2075.6L675.9,2075.0L678.9,2074.5L681.8,2073.9L684.8,2073.4L687.7,2072.8L690.7,2072.3L693.6,2071.8L696.6,2071.3L699.5,2070.7L702.5,2070.2L705.5,2069.8L708.4,2069.3L711.4,2068.8L714.4,2068.4L717.3,2068.0L720.3,2067.6L723.3,2067.2L726.3,2066.8L729.2,2066.5L732.2,2066.1L735.2,2065.8L738.2,2065.5L741.2,2065.2L744.2,2064.9L747.1,2064.6L750.1,2064.4L753.1,2064.1L756.1,2063.8L759.1,2063.6L762.1,2063.3L765.1,2063.0L768.1,2062.7L771.0,2062.4L774.0,2062.2L777.0,2061.9L780.0,2061.6L783.0,2061.3L786.0,2061.0L789.0,2060.6L791.9,2060.3L794.9,2060.0L797.9,2059.7L800.9,2059.4L803.9,2059.1L806.9,2058.8L809.8,2058.5L812.8,2058.2L815.8,2057.9L818.8,2057.6L821.8,2057.3L824.8,2057.0L827.8,2056.8L830.7,2056.5L833.7,2056.3L836.7,2056.0L839.7,2055.8L842.7,2055.6L845.7,2055.4L848.7,2055.1L851.7,2054.9L854.7,2054.7L857.7,2054.5L860.7,2054.3L863.7,2054.1L866.7,2053.9L869.6,2053.7L872.6,2053.5L875.6,2053.3L878.6,2053.0L881.6,2052.8L884.6,2052.5L887.6,2052.3L890.6,2052.0L893.5,2051.7L896.5,2051.2L899.3,2050.3L902.0,2049.1L904.5,2047.6L906.7,2045.6L908.5,2043.4L910.0,2040.8L911.1,2038.1L912.0,2035.2L912.7,2032.3L913.4,2029.4L914.2,2026.5L915.0,2023.6L915.8,2020.7L916.7,2017.9L917.5,2015.0L918.2,2012.1L918.9,2009.2L919.6,2006.2L920.2,2003.3L920.8,2000.3L921.3,1997.4L921.8,1994.4L922.3,1991.5L922.8,1988.5L923.2,1985.5L923.7,1982.6L924.1,1979.6L924.6,1976.7L925.1,1973.7L925.5,1970.7L926.0,1967.8L926.5,1964.8L926.9,1961.8L927.4,1958.9L927.9,1955.9L928.5,1953.0L929.0,1950.0L929.5,1947.1L930.0,1944.1L930.6,1941.2L931.1,1938.2L931.6,1935.2L932.2,1932.3L932.7,1929.3L933.3,1926.4L933.8,1923.4L934.4,1920.5L934.9,1917.6L935.5,1914.6L936.0,1911.7L936.6,1908.7L937.2,1905.8L937.7,1902.8L938.3,1899.9L938.9,1896.9L939.4,1894.0L940.0,1891.0L940.6,1888.1L941.1,1885.1L941.7,1882.2L942.3,1879.2L942.9,1876.3L943.5,1873.4L944.1,1870.4L944.7,1867.5L945.3,1864.5L945.9,1861.6L946.5,1858.7L947.2,1855.7L947.8,1852.8L948.5,1849.9L949.1,1847.0L949.8,1844.0L950.5,1841.1L951.1,1838.2L951.8,1835.3L952.5,1832.4L953.2,1829.4L953.9,1826.5L954.6,1823.6L955.4,1820.7L956.1,1817.8L956.8,1814.9L957.6,1812.0L958.3,1809.1L959.1,1806.2L959.8,1803.3L960.6,1800.4L961.4,1797.5L962.2,1794.6L963.0,1791.7L963.8,1788.8L964.6,1785.9L965.5,1783.0L966.3,1780.2L967.2,1777.3L968.1,1774.4L969.0,1771.6L969.9,1768.7L970.9,1765.9L971.8,1763.0L972.8,1760.2L973.8,1757.3L974.8,1754.5L975.8,1751.7L976.8,1748.9L977.8,1746.0L978.8,1743.2L979.9,1740.4L980.8,1737.6L981.8,1734.7L982.8,1731.9L983.7,1729.0L984.6,1726.2L985.6,1723.3L986.6,1720.5L987.6,1717.7L988.8,1715.0L990.1,1712.3L991.5,1709.6L993.1,1707.1L994.8,1704.6L996.6,1702.3L998.7,1700.2L1001.0,1698.3L1003.5,1696.7L1006.2,1695.4L1009.0,1694.4L1011.8,1693.6L1014.8,1693.3L1017.7,1693.3L1020.6,1693.8L1023.4,1694.7L1026.1,1695.9L1028.7,1697.4L1031.0,1699.2L1033.2,1701.2L1035.2,1703.5L1036.9,1705.9L1038.6,1708.4L1040.1,1710.9L1041.6,1713.5L1043.0,1716.2L1044.2,1718.9L1045.4,1721.7L1046.5,1724.5L1047.6,1727.3L1048.6,1730.1L1049.6,1732.9L1050.6,1735.7L1051.5,1738.6L1052.4,1741.5L1053.3,1744.3L1054.1,1747.2L1055.0,1750.1L1056.0,1752.9L1056.9,1755.8L1057.8,1758.6L1058.8,1761.5L1059.7,1764.3L1060.6,1767.2L1061.5,1770.0L1062.4,1772.9L1063.2,1775.8L1064.1,1778.7L1064.9,1781.6L1065.7,1784.5L1066.5,1787.3L1067.3,1790.2L1068.1,1793.1L1068.9,1796.0L1069.7,1798.9L1070.6,1801.8L1071.4,1804.6L1072.3,1807.5L1073.2,1810.4L1074.1,1813.2L1075.1,1816.1L1076.0,1818.9L1076.9,1821.8L1077.9,1824.6L1078.8,1827.5L1079.8,1830.3L1080.7,1833.2L1081.7,1836.0L1082.7,1838.9L1083.6,1841.7L1084.6,1844.5L1085.6,1847.4L1086.6,1850.2L1087.5,1853.0L1088.5,1855.9L1089.5,1858.7L1090.5,1861.5L1091.5,1864.4L1092.5,1867.2L1093.6,1870.0L1094.8,1872.8L1095.9,1875.5L1097.1,1878.3L1098.3,1881.0L1099.6,1883.7L1100.9,1886.5L1102.2,1889.2L1103.5,1891.9L1104.8,1894.5L1106.2,1897.2L1107.6,1899.9L1109.0,1902.5L1110.5,1905.1L1112.1,1907.7L1113.7,1910.2L1115.4,1912.7L1117.1,1915.1L1119.0,1917.5L1120.9,1919.7L1123.0,1921.9L1125.2,1923.9L1127.5,1925.8L1129.9,1927.5L1132.5,1929.1L1135.1,1930.5L1137.9,1931.6L1140.7,1932.6L1143.6,1933.4L1146.5,1934.0L1149.5,1934.4L1152.5,1934.6L1155.4,1934.7L1158.4,1934.7L1161.4,1934.4L1164.4,1934.1L1167.3,1933.6L1170.3,1932.9L1173.2,1932.2L1176.1,1931.4L1179.0,1930.6L1181.8,1929.7L1184.7,1928.8L1187.5,1927.8L1190.3,1926.8L1193.2,1925.8L1196.0,1924.8L1198.8,1923.8L1201.6,1922.8L1204.5,1921.8L1207.3,1920.8L1210.1,1919.8L1213.0,1918.8L1215.8,1917.8L1218.6,1916.8L1221.4,1915.7L1224.2,1914.6L1227.0,1913.5L1229.8,1912.4L1232.6,1911.3L1235.4,1910.2L1238.2,1909.2L1241.0,1908.3L1243.9,1907.3L1246.7,1906.4L1249.6,1905.5L1252.5,1904.6L1255.4,1903.9L1258.3,1903.1L1261.2,1902.5L1264.1,1901.9L1267.1,1901.3L1270.1,1900.8L1273.0,1900.4L1276.0,1900.0L1279.0,1899.6L1282.0,1899.3L1284.9,1899.0L1287.9,1898.7L1290.9,1898.5L1293.9,1898.3L1296.9,1898.2L1299.9,1898.0L1302.9,1898.0L1305.9,1897.9L1308.9,1897.9L1311.9,1897.9L1314.9,1898.0L1317.9,1898.1L1320.9,1898.2L1323.9,1898.4L1326.9,1898.6L1329.9,1898.9L1332.9,1899.2L1335.8,1899.5L1338.8,1899.8L1341.8,1900.2L1344.8,1900.6L1347.7,1901.1L1350.7,1901.6L1353.6,1902.1L1356.6,1902.7L1359.5,1903.3L1362.5,1903.9L1365.4,1904.6L1368.3,1905.3L1371.2,1906.0L1374.1,1906.8L1377.0,1907.5L1379.9,1908.3L1382.8,1909.1L1385.7,1910.0L1388.5,1910.8L1391.4,1911.7L1394.3,1912.6L1397.1,1913.6L1400.0,1914.5L1402.8,1915.5L1405.6,1916.5L1408.5,1917.5L1411.3,1918.6L1414.1,1919.6L1416.9,1920.7L1419.6,1921.9L1422.4,1923.0L1425.2,1924.2L1427.9,1925.4L1430.6,1926.7L1433.3,1928.0L1436.0,1929.3L1438.7,1930.7L1441.3,1932.1L1444.0,1933.5L1446.6,1935.0L1449.1,1936.6L1451.7,1938.1L1454.2,1939.8L1456.7,1941.4L1459.2,1943.1L1461.6,1944.9L1464.0,1946.7L1466.4,1948.5L1468.8,1950.4L1471.1,1952.2L1473.4,1954.2L1475.7,1956.1L1478.0,1958.0L1480.2,1960.0L1482.5,1962.0L1484.7,1964.0L1486.9,1966.0L1489.1,1968.1L1491.3,1970.1L1493.5,1972.2L1495.6,1974.3L1497.7,1976.5L1499.8,1978.6L1501.8,1980.9L1503.8,1983.1L1505.7,1985.4L1507.6,1987.7L1509.4,1990.1L1511.2,1992.5L1512.9,1995.0L1514.6,1997.4L1516.3,1999.9L1518.0,2002.4L1519.7,2004.9L1521.4,2007.3L1523.2,2009.8L1525.0,2012.2L1526.8,2014.6L1528.6,2017.0L1530.4,2019.3L1532.3,2021.7L1534.1,2024.1L1536.0,2026.4L1537.9,2028.7L1539.8,2031.0L1541.8,2033.3L1543.8,2035.5L1545.9,2037.7L1548.0,2039.8L1550.2,2041.8L1552.5,2043.7L1554.8,2045.6L1557.2,2047.5L1559.6,2049.2L1562.1,2050.9L1564.6,2052.6L1567.2,2054.1L1569.8,2055.6L1572.4,2057.0L1575.1,2058.4L1577.8,2059.7L1580.5,2060.9L1583.3,2062.1L1586.1,2063.1L1588.9,2064.2L1591.7,2065.1L1594.6,2066.0L1597.5,2066.9L1600.4,2067.7L1603.3,2068.5L1606.2,2069.2L1609.1,2069.9L1612.0,2070.6L1614.9,2071.3L1617.9,2072.0L1620.8,2072.6L1623.7,2073.2L1626.7,2073.7L1629.6,2074.3L1632.6,2074.8L1635.6,2075.2L1638.5,2075.7L1641.5,2076.1L1644.5,2076.5L1647.4,2076.9L1650.4,2077.3L1653.4,2077.7L1656.4,2078.1L1659.3,2078.4L1662.3,2078.8L1665.3,2079.1L1668.3,2079.5L1671.3,2079.8L1674.2,2080.1L1677.2,2080.5L1680.2,2080.8L1683.2,2081.1L1686.2,2081.4L1689.2,2081.7L1692.1,2082.0L1695.1,2082.2L1698.1,2082.5L1701.1,2082.8L1704.1,2083.0L1707.1,2083.2L1710.1,2083.5L1713.1,2083.7L1716.1,2083.9L1719.1,2084.2L1722.0,2084.4L1725.0,2084.6L1728.0,2084.8L1731.0,2085.0L1734.0,2085.2L1737.0,2085.4L1740.0,2085.6L1743.0,2085.8L1746.0,2085.9L1749.0,2086.1L1752.0,2086.3L1755.0,2086.5L1758.0,2086.6L1761.0,2086.8L1764.0,2086.9L1767.0,2087.1L1770.0,2087.2L1773.0,2087.3L1776.0,2087.5L1779.0,2087.6L1782.0,2087.7L1785.0,2087.8L1788.0,2087.9L1791.0,2088.0L1793.9,2088.1L1796.9,2088.2L1799.9,2088.3L1802.9,2088.4L1805.9,2088.5L1808.9,2088.6L1811.9,2088.7L1814.9,2088.8L1817.9,2088.9L1820.9,2089.1L1823.9,2089.2L1826.9,2089.3L1829.9,2089.4L1832.9,2089.5L1835.9,2089.6L1838.9,2089.7L1841.9,2089.9L1844.9,2090.0L1847.9,2090.0L1850.9,2090.1L1853.9,2090.2L1856.9,2090.3L1859.9,2090.4L1862.9,2090.6L1865.9,2090.7L1868.9,2090.8L1871.9,2091.0L1874.9,2091.1L1877.9,2091.3L1880.9,2091.5L1883.9,2091.8L1886.9,2092.0L1889.8,2092.3L1892.8,2092.7L1895.8,2093.1L1898.8,2093.6L1901.7,2094.1L1904.7,2094.6L1907.6,2095.1L1910.6,2095.6L1913.5,2096.1L1916.5,2096.6L1919.5,2097.0L1922.4,2097.4L1925.4,2097.8L1928.4,2098.1L1931.4,2098.4L1934.4,2098.7L1937.4,2098.9L1940.4,2099.1L1943.3,2099.3L1946.3,2099.5L1949.3,2099.7L1952.3,2099.8L1955.3,2100.0L1958.3,2100.1L1961.3,2100.2L1964.3,2100.4L1967.3,2100.5L1970.3,2100.6L1973.3,2100.7L1976.3,2100.8L1979.3,2100.9L1982.3,2101.0L1985.3,2101.1L1988.3,2101.2L1991.3,2101.3L1994.3,2101.4L1997.3,2101.5L2000.3,2101.5L2003.3,2101.6L2006.3,2101.6L2009.3,2101.7L2012.3,2101.8L2015.3,2101.8L2018.3,2101.9L2021.3,2101.9L2024.3,2101.9L2027.3,2102.0L2030.3,2102.0L2033.3,2102.1L2036.3,2102.1L2039.3,2102.1L2042.3,2102.2L2045.3,2102.2L2048.3,2102.2L2051.3,2102.3L2054.3,2102.3L2057.3,2102.3L2060.3,2102.4L2063.3,2102.4L2066.3,2102.4L2069.3,2102.5L2072.3,2102.5L2075.3,2102.6L2078.3,2102.6" fill="none" stroke="#70AD47" stroke-width="17.5" stroke-linecap="round" stroke-linejoin="round"/><path d="M172.0,2447.5L175.0,2447.5L178.0,2447.5L181.0,2447.6L184.0,2447.6L187.0,2447.6L190.0,2447.6L193.0,2447.7L196.0,2447.7L199.0,2447.7L202.0,2447.7L205.0,2447.8L208.0,2447.8L211.0,2447.8L214.0,2447.9L217.0,2447.9L220.0,2447.9L223.0,2447.9L226.0,2448.0L229.0,2448.0L232.0,2448.0L235.0,2448.1L238.0,2448.1L241.0,2448.1L244.0,2448.1L247.0,2448.2L250.0,2448.2L253.0,2448.2L256.0,2448.2L259.0,2448.3L262.0,2448.3L265.0,2448.3L268.0,2448.3L271.0,2448.3L274.0,2448.4L277.0,2448.4L280.0,2448.4L283.0,2448.4L286.0,2448.4L289.0,2448.4L292.0,2448.4L295.0,2448.4L298.0,2448.4L301.0,2448.4L304.0,2448.4L307.0,2448.4L310.0,2448.4L313.0,2448.4L316.0,2448.4L319.0,2448.4L322.0,2448.4L325.0,2448.4L328.0,2448.3L331.0,2448.3L334.0,2448.3L337.0,2448.3L340.0,2448.3L343.0,2448.3L346.0,2448.3L349.0,2448.2L352.0,2448.2L355.0,2448.2L358.0,2448.2L361.0,2448.2L364.0,2448.2L367.0,2448.1L370.0,2448.1L373.0,2448.1L376.0,2448.1L379.0,2448.1L382.0,2448.0L385.0,2448.0L388.0,2448.0L391.0,2448.0L394.0,2447.9L397.0,2447.9L400.0,2447.9L403.0,2447.8L406.0,2447.8L409.0,2447.8L412.0,2447.7L415.0,2447.7L418.0,2447.7L421.0,2447.6L424.0,2447.6L427.0,2447.5L430.0,2447.5L433.0,2447.4L436.0,2447.4L439.0,2447.3L442.0,2447.3L445.0,2447.2L448.0,2447.1L451.0,2447.1L454.0,2447.0L457.0,2446.9L460.0,2446.8L463.0,2446.7L466.0,2446.6L469.0,2446.5L472.0,2446.4L475.0,2446.2L478.0,2446.0L481.0,2445.8L484.0,2445.6L487.0,2445.3L490.0,2445.0L493.0,2444.7L495.9,2444.4L498.9,2444.1L501.9,2443.8L504.9,2443.6L507.9,2443.3L510.9,2443.1L513.9,2442.9L516.9,2442.6L519.9,2442.4L522.9,2442.2L525.8,2441.9L528.8,2441.7L531.8,2441.5L534.8,2441.2L537.8,2440.9L540.8,2440.7L543.8,2440.4L546.8,2440.1L549.7,2439.8L552.7,2439.5L555.7,2439.2L558.7,2438.8L561.7,2438.4L564.6,2438.0L567.6,2437.6L570.6,2437.2L573.6,2436.7L576.5,2436.2L579.5,2435.8L582.4,2435.3L585.4,2434.7L588.3,2434.2L591.3,2433.7L594.2,2433.1L597.2,2432.6L600.1,2432.0L603.1,2431.5L606.0,2430.9L609.0,2430.4L611.9,2429.8L614.9,2429.3L617.8,2428.7L620.8,2428.2L623.7,2427.7L626.7,2427.2L629.7,2426.6L632.6,2426.1L635.6,2425.6L638.5,2425.1L641.5,2424.5L644.4,2424.0L647.4,2423.5L650.3,2423.0L653.3,2422.4L656.2,2421.9L659.2,2421.4L662.2,2420.9L665.1,2420.3L668.1,2419.8L671.0,2419.3L674.0,2418.8L676.9,2418.3L679.9,2417.8L682.8,2417.3L685.8,2416.8L688.8,2416.3L691.7,2415.8L694.7,2415.3L697.6,2414.7L700.6,2414.2L703.5,2413.7L706.5,2413.2L709.5,2412.7L712.4,2412.2L715.4,2411.6L718.3,2411.1L721.3,2410.6L724.2,2410.1L727.2,2409.7L730.2,2409.2L733.1,2408.7L736.1,2408.3L739.1,2407.9L742.0,2407.5L745.0,2407.1L748.0,2406.7L751.0,2406.4L754.0,2406.0L756.9,2405.7L759.9,2405.5L762.9,2405.2L765.9,2405.0L768.9,2404.7L771.9,2404.5L774.9,2404.3L777.9,2404.2L780.9,2404.0L783.9,2403.8L786.9,2403.7L789.9,2403.5L792.9,2403.4L795.9,2403.2L798.9,2403.1L801.9,2402.9L804.9,2402.8L807.9,2402.6L810.9,2402.4L813.8,2402.3L816.8,2402.1L819.8,2401.9L822.8,2401.7L825.8,2401.6L828.8,2401.4L831.8,2401.2L834.8,2401.0L837.8,2400.8L840.8,2400.7L843.8,2400.5L846.8,2400.3L849.8,2400.2L852.8,2400.0L855.8,2399.9L858.8,2399.7L861.8,2399.6L864.8,2399.5L867.8,2399.4L870.8,2399.3L873.8,2399.2L876.8,2399.2L879.8,2399.2L882.8,2399.1L885.8,2399.1L888.8,2399.1L891.8,2399.1L894.8,2399.2L897.8,2399.2L900.8,2399.2L903.8,2399.3L906.8,2399.4L909.8,2399.5L912.8,2399.6L915.8,2399.7L918.8,2399.9L921.8,2400.0L924.8,2400.2L927.7,2400.5L930.7,2400.7L933.7,2401.0L936.7,2401.4L939.7,2401.7L942.7,2402.1L945.6,2402.4L948.6,2402.8L951.6,2403.1L954.6,2403.5L957.6,2403.8L960.6,2404.0L963.5,2404.3L966.5,2404.4L969.5,2404.5L972.5,2404.5L975.5,2404.6L978.5,2404.7L981.5,2404.6L984.5,2404.5L987.5,2404.0L990.3,2403.0L992.9,2401.5L995.1,2399.5L996.9,2397.2L998.5,2394.7L999.9,2392.0L1001.3,2389.4L1002.7,2386.7L1004.2,2384.1L1005.7,2381.5L1007.1,2378.8L1008.5,2376.2L1009.8,2373.5L1011.2,2370.8L1012.6,2368.2L1014.1,2365.6L1015.6,2363.0L1017.2,2360.5L1018.9,2358.0L1020.6,2355.5L1022.3,2353.1L1024.1,2350.7L1026.0,2348.3L1028.1,2346.1L1030.2,2344.0L1032.5,2342.1L1034.9,2340.3L1037.4,2338.6L1039.9,2337.1L1042.6,2335.7L1045.3,2334.5L1048.1,2333.4L1051.0,2332.5L1053.9,2331.7L1056.8,2331.1L1059.8,2330.6L1062.8,2330.3L1065.8,2330.1L1068.8,2330.2L1071.7,2330.5L1074.7,2331.0L1077.6,2331.6L1080.5,2332.5L1083.3,2333.4L1086.2,2334.4L1088.9,2335.6L1091.7,2336.8L1094.4,2338.1L1097.0,2339.6L1099.5,2341.2L1102.0,2342.8L1104.5,2344.5L1107.1,2346.1L1109.6,2347.7L1112.2,2349.2L1114.8,2350.7L1117.4,2352.2L1120.0,2353.7L1122.6,2355.2L1125.3,2356.6L1127.9,2357.9L1130.7,2359.2L1133.4,2360.4L1136.2,2361.5L1139.0,2362.6L1141.8,2363.6L1144.7,2364.5L1147.5,2365.4L1150.4,2366.2L1153.3,2366.9L1156.3,2367.6L1159.2,2368.2L1162.2,2368.7L1165.1,2369.2L1168.1,2369.7L1171.1,2370.1L1174.0,2370.5L1177.0,2370.8L1180.0,2371.1L1183.0,2371.4L1186.0,2371.7L1189.0,2371.9L1192.0,2372.1L1195.0,2372.3L1197.9,2372.4L1200.9,2372.5L1203.9,2372.6L1206.9,2372.7L1209.9,2372.7L1212.9,2372.7L1215.9,2372.7L1218.9,2372.6L1221.9,2372.6L1224.9,2372.4L1227.9,2372.3L1230.9,2372.1L1233.9,2371.9L1236.9,2371.7L1239.9,2371.4L1242.9,2371.2L1245.9,2370.9L1248.9,2370.5L1251.9,2370.2L1254.8,2369.9L1257.8,2369.5L1260.8,2369.2L1263.8,2368.8L1266.8,2368.5L1269.7,2368.1L1272.7,2367.7L1275.7,2367.3L1278.7,2366.9L1281.6,2366.5L1284.6,2366.0L1287.5,2365.6L1290.5,2365.0L1293.5,2364.5L1296.4,2363.9L1299.3,2363.3L1302.3,2362.7L1305.2,2362.0L1308.1,2361.3L1311.0,2360.6L1313.9,2359.8L1316.8,2359.0L1319.7,2358.2L1322.6,2357.4L1325.5,2356.5L1328.3,2355.7L1331.2,2354.8L1334.1,2354.0L1337.0,2353.1L1339.8,2352.2L1342.7,2351.4L1345.6,2350.5L1348.4,2349.6L1351.3,2348.7L1354.2,2347.8L1357.0,2346.9L1359.9,2346.0L1362.7,2345.0L1365.6,2344.1L1368.4,2343.2L1371.3,2342.2L1374.1,2341.3L1377.0,2340.3L1379.8,2339.4L1382.7,2338.4L1385.5,2337.5L1388.4,2336.5L1391.2,2335.6L1394.1,2334.6L1396.9,2333.7L1399.8,2332.8L1402.6,2331.8L1405.5,2330.9L1408.3,2330.0L1411.2,2329.1L1414.1,2328.2L1416.9,2327.3L1419.8,2326.5L1422.7,2325.6L1425.5,2324.7L1428.4,2323.8L1431.3,2322.9L1434.1,2322.1L1437.0,2321.2L1439.9,2320.3L1442.8,2319.5L1445.6,2318.6L1448.5,2317.8L1451.4,2316.9L1454.3,2316.1L1457.2,2315.2L1460.0,2314.4L1462.9,2313.5L1465.8,2312.7L1468.7,2311.9L1471.6,2311.0L1474.4,2310.2L1477.3,2309.4L1480.2,2308.6L1483.1,2307.8L1486.0,2307.0L1488.9,2306.2L1491.8,2305.4L1494.7,2304.6L1497.6,2303.9L1500.5,2303.1L1503.4,2302.3L1506.3,2301.5L1509.2,2300.8L1512.1,2300.0L1515.0,2299.2L1517.9,2298.5L1520.8,2297.7L1523.7,2296.9L1526.6,2296.1L1529.5,2295.3L1532.3,2294.5L1535.2,2293.6L1538.1,2292.8L1541.0,2291.9L1543.8,2291.0L1546.7,2290.1L1549.5,2289.1L1552.4,2288.2L1555.2,2287.2L1558.0,2286.2L1560.9,2285.2L1563.7,2284.1L1566.5,2283.1L1569.3,2282.1L1572.2,2281.1L1575.0,2280.2L1577.8,2279.2L1580.7,2278.3L1583.6,2277.4L1586.5,2276.5L1589.3,2275.7L1592.2,2275.0L1595.1,2274.2L1598.0,2273.5L1601.0,2272.7L1603.9,2272.0L1606.8,2271.3L1609.7,2270.6L1612.6,2270.0L1615.6,2269.4L1618.5,2268.9L1621.5,2268.4L1624.5,2268.0L1627.5,2267.8L1630.5,2267.6L1633.5,2267.5L1636.5,2267.5L1639.5,2267.6L1642.4,2267.7L1645.4,2268.0L1648.4,2268.4L1651.4,2268.8L1654.3,2269.4L1657.2,2270.1L1660.1,2270.9L1663.0,2271.9L1665.8,2272.9L1668.5,2274.1L1671.2,2275.5L1673.8,2276.9L1676.4,2278.4L1678.9,2280.1L1681.4,2281.7L1683.9,2283.5L1686.3,2285.2L1688.7,2287.0L1691.1,2288.9L1693.4,2290.7L1695.8,2292.6L1698.1,2294.5L1700.5,2296.4L1702.7,2298.3L1705.0,2300.3L1707.2,2302.3L1709.4,2304.4L1711.6,2306.4L1713.7,2308.5L1715.9,2310.6L1718.0,2312.7L1720.1,2314.9L1722.2,2317.0L1724.3,2319.2L1726.4,2321.3L1728.5,2323.5L1730.6,2325.6L1732.7,2327.8L1734.7,2330.0L1736.7,2332.2L1738.7,2334.4L1740.7,2336.6L1742.7,2338.9L1744.7,2341.1L1746.7,2343.4L1748.7,2345.6L1750.7,2347.9L1752.7,2350.1L1754.8,2352.3L1756.8,2354.4L1758.9,2356.6L1761.0,2358.8L1763.0,2361.0L1765.1,2363.2L1767.2,2365.3L1769.3,2367.5L1771.4,2369.6L1773.5,2371.7L1775.7,2373.7L1778.0,2375.7L1780.2,2377.7L1782.5,2379.6L1784.9,2381.5L1787.2,2383.4L1789.6,2385.2L1792.0,2387.0L1794.5,2388.7L1797.0,2390.4L1799.5,2392.0L1802.1,2393.5L1804.7,2394.9L1807.4,2396.2L1810.1,2397.5L1812.9,2398.7L1815.7,2399.8L1818.5,2400.9L1821.3,2401.9L1824.2,2402.8L1827.0,2403.7L1829.9,2404.5L1832.8,2405.3L1835.7,2406.0L1838.7,2406.7L1841.6,2407.3L1844.5,2407.9L1847.5,2408.4L1850.5,2408.8L1853.4,2409.3L1856.4,2409.6L1859.4,2410.0L1862.4,2410.3L1865.3,2410.6L1868.3,2410.9L1871.3,2411.2L1874.3,2411.5L1877.3,2411.8L1880.3,2412.0L1883.3,2412.3L1886.3,2412.6L1889.2,2412.9L1892.2,2413.2L1895.2,2413.5L1898.2,2413.8L1901.2,2414.1L1904.2,2414.3L1907.2,2414.6L1910.2,2414.9L1913.1,2415.1L1916.1,2415.4L1919.1,2415.6L1922.1,2415.8L1925.1,2416.1L1928.1,2416.3L1931.1,2416.5L1934.1,2416.7L1937.1,2416.9L1940.1,2417.1L1943.1,2417.3L1946.1,2417.5L1949.1,2417.7L1952.1,2417.9L1955.0,2418.1L1958.0,2418.2L1961.0,2418.4L1964.0,2418.5L1967.0,2418.7L1970.0,2418.8L1973.0,2418.9L1976.0,2419.0L1979.0,2419.1L1982.0,2419.3L1985.0,2419.4L1988.0,2419.4L1991.0,2419.5L1994.0,2419.6L1997.0,2419.7L2000.0,2419.8L2003.0,2419.8L2006.0,2419.8L2009.0,2419.8L2012.0,2419.7L2015.0,2419.5L2018.0,2419.4L2021.0,2419.3L2024.0,2419.1L2027.0,2419.0L2030.0,2418.9L2033.0,2418.8L2036.0,2418.8L2039.0,2418.9L2042.0,2419.1L2045.0,2419.5L2047.8,2420.3L2050.5,2421.6L2052.8,2423.4L2054.9,2425.6L2057.1,2427.6L2059.4,2429.6L2061.7,2431.5L2063.9,2433.5L2064.7,2434.1" fill="none" stroke="#5B9BD5" stroke-width="17.5" stroke-linecap="round" stroke-linejoin="round"/><path d="M188.0,2771.0L191.0,2771.0L194.0,2771.0L197.0,2771.0L200.0,2771.0L203.0,2771.0L206.0,2771.0L209.0,2771.0L212.0,2771.0L215.0,2771.0L218.0,2771.1L221.0,2771.1L224.0,2771.1L227.0,2771.1L230.0,2771.1L233.0,2771.1L236.0,2771.1L239.0,2771.1L242.0,2771.2L245.0,2771.2L248.0,2771.2L251.0,2771.2L254.0,2771.2L257.0,2771.2L260.0,2771.2L263.0,2771.3L266.0,2771.3L269.0,2771.3L272.0,2771.3L275.0,2771.3L278.0,2771.3L281.0,2771.3L284.0,2771.3L287.0,2771.4L290.0,2771.4L293.0,2771.4L296.0,2771.4L299.0,2771.4L302.0,2771.4L305.0,2771.4L308.0,2771.4L311.0,2771.4L314.0,2771.4L317.0,2771.4L320.0,2771.4L323.0,2771.4L326.0,2771.4L329.0,2771.4L332.0,2771.3L335.0,2771.3L338.0,2771.3L341.0,2771.3L344.0,2771.3L347.0,2771.3L350.1,2771.2L353.1,2771.2L356.1,2771.2L359.1,2771.1L362.1,2771.1L365.1,2771.1L368.1,2771.0L371.1,2771.0L374.1,2770.9L377.1,2770.9L380.1,2770.8L383.1,2770.8L386.1,2770.7L389.1,2770.7L392.1,2770.6L395.1,2770.6L398.1,2770.5L401.1,2770.4L404.1,2770.4L407.1,2770.3L410.1,2770.2L413.1,2770.1L416.1,2770.1L419.1,2770.0L422.1,2769.9L425.1,2769.8L428.1,2769.7L431.1,2769.7L434.1,2769.6L437.1,2769.5L440.1,2769.4L443.1,2769.3L446.1,2769.2L449.1,2769.1L452.1,2769.0L455.1,2768.9L458.1,2768.9L461.1,2768.8L464.1,2768.7L467.1,2768.6L470.1,2768.5L473.1,2768.4L476.1,2768.3L479.1,2768.2L482.1,2768.1L485.1,2768.0L488.1,2767.9L491.1,2767.8L494.0,2767.7L497.0,2767.6L500.0,2767.5L503.0,2767.4L506.0,2767.3L509.0,2767.2L512.0,2767.1L515.0,2767.0L518.0,2766.9L521.0,2766.8L524.0,2766.7L527.0,2766.6L530.0,2766.5L533.0,2766.4L536.0,2766.3L539.0,2766.2L542.0,2766.1L545.0,2766.0L548.0,2765.9L551.0,2765.9L554.0,2765.8L557.0,2765.7L560.0,2765.6L563.0,2765.5L566.0,2765.4L569.0,2765.4L572.0,2765.3L575.0,2765.3L578.0,2765.2L581.0,2765.1L584.0,2765.1L587.0,2765.0L590.0,2765.0L593.0,2764.9L596.0,2764.9L599.0,2764.8L602.0,2764.7L605.0,2764.7L608.0,2764.6L611.0,2764.5L614.0,2764.4L617.0,2764.3L620.0,2764.1L623.0,2764.0L626.0,2763.8L629.0,2763.7L632.0,2763.5L635.0,2763.3L638.0,2763.1L641.0,2762.9L644.0,2762.7L647.0,2762.5L650.0,2762.3L653.0,2762.1L656.0,2761.8L659.0,2761.6L662.0,2761.3L664.9,2761.1L667.9,2760.8L670.9,2760.6L673.9,2760.3L676.9,2760.1L679.9,2759.8L682.9,2759.5L685.9,2759.2L688.9,2759.0L691.8,2758.7L694.8,2758.4L697.8,2758.0L700.8,2757.7L703.8,2757.4L706.8,2757.0L709.7,2756.7L712.7,2756.3L715.7,2756.0L718.7,2755.6L721.7,2755.3L724.6,2754.9L727.6,2754.6L730.6,2754.2L733.6,2753.9L736.6,2753.6L739.6,2753.3L742.5,2752.9L745.5,2752.6L748.5,2752.4L751.5,2752.1L754.5,2751.8L757.5,2751.5L760.5,2751.3L763.5,2751.0L766.4,2750.7L769.4,2750.5L772.4,2750.3L775.4,2750.0L778.4,2749.8L781.4,2749.5L784.4,2749.3L787.4,2749.1L790.4,2748.9L793.4,2748.6L796.4,2748.4L799.4,2748.2L802.4,2748.0L805.3,2747.8L808.3,2747.6L811.3,2747.4L814.3,2747.1L817.3,2746.9L820.3,2746.8L823.3,2746.6L826.3,2746.4L829.3,2746.2L832.3,2746.0L835.3,2745.8L838.3,2745.7L841.3,2745.5L844.3,2745.3L847.3,2745.1L850.3,2745.0L853.3,2744.8L856.3,2744.6L859.3,2744.5L862.3,2744.3L865.3,2744.1L868.2,2744.0L871.2,2743.8L874.2,2743.7L877.2,2743.5L880.2,2743.4L883.2,2743.3L886.2,2743.2L889.2,2743.1L892.2,2743.0L895.2,2742.9L898.2,2742.8L901.2,2742.7L904.2,2742.5L907.2,2742.4L910.2,2742.2L913.2,2742.0L916.2,2741.7L919.2,2741.3L922.2,2740.9L925.1,2740.4L928.1,2739.9L931.0,2739.2L933.9,2738.6L936.8,2737.9L939.7,2737.1L942.7,2736.4L945.6,2735.7L948.5,2735.0L951.4,2734.3L954.4,2733.7L957.3,2733.0L960.2,2732.4L963.1,2731.7L966.1,2731.0L969.0,2730.4L971.9,2729.8L974.9,2729.3L977.8,2728.7L980.8,2728.3L983.8,2727.9L986.8,2727.6L989.8,2727.3L992.7,2727.1L995.7,2726.9L998.7,2726.7L1001.7,2726.5L1004.7,2726.4L1007.7,2726.3L1010.7,2726.2L1013.7,2726.1L1016.7,2726.1L1019.7,2726.0L1022.7,2726.0L1025.7,2725.9L1028.7,2725.8L1031.7,2725.8L1034.7,2725.7L1037.7,2725.7L1040.7,2725.6L1043.7,2725.6L1046.7,2725.6L1049.7,2725.6L1052.7,2725.6L1055.7,2725.6L1058.7,2725.6L1061.7,2725.6L1064.7,2725.6L1067.7,2725.6L1070.7,2725.6L1073.7,2725.7L1076.7,2725.7L1079.7,2725.7L1082.7,2725.7L1085.7,2725.7L1088.7,2725.8L1091.7,2725.8L1094.7,2725.8L1097.7,2725.8L1100.7,2725.9L1103.8,2725.9L1106.8,2725.9L1109.8,2725.9L1112.8,2726.0L1115.8,2726.0L1118.8,2726.0L1121.8,2726.0L1124.8,2726.0L1127.8,2726.0L1130.8,2726.0L1133.8,2726.0L1136.8,2726.0L1139.8,2726.0L1142.8,2726.0L1145.8,2726.0L1148.8,2726.0L1151.8,2725.9L1154.8,2725.9L1157.8,2725.9L1160.8,2725.9L1163.8,2725.9L1166.8,2725.9L1169.8,2725.9L1172.8,2725.9L1175.8,2725.9L1178.8,2725.8L1181.8,2725.8L1184.8,2725.8L1187.8,2725.8L1190.8,2725.8L1193.8,2725.7L1196.8,2725.7L1199.8,2725.7L1202.8,2725.6L1205.8,2725.6L1208.8,2725.6L1211.8,2725.5L1214.8,2725.5L1217.8,2725.4L1220.8,2725.4L1223.8,2725.3L1226.8,2725.2L1229.8,2725.2L1232.8,2725.1L1235.8,2725.0L1238.8,2724.9L1241.8,2724.8L1244.8,2724.7L1247.8,2724.6L1250.8,2724.5L1253.8,2724.3L1256.8,2724.2L1259.8,2724.0L1262.8,2723.9L1265.8,2723.8L1268.8,2723.6L1271.8,2723.4L1274.8,2723.3L1277.8,2723.1L1280.7,2722.9L1283.7,2722.7L1286.7,2722.6L1289.7,2722.4L1292.7,2722.2L1295.7,2722.0L1298.7,2721.8L1301.7,2721.6L1304.7,2721.4L1307.7,2721.2L1310.7,2721.0L1313.7,2720.8L1316.7,2720.6L1319.7,2720.3L1322.7,2720.1L1325.7,2719.8L1328.6,2719.6L1331.6,2719.3L1334.6,2719.1L1337.6,2718.8L1340.6,2718.6L1343.6,2718.4L1346.6,2718.1L1349.6,2717.9L1352.6,2717.7L1355.6,2717.5L1358.6,2717.3L1361.6,2717.1L1364.6,2716.9L1367.6,2716.7L1370.5,2716.5L1373.5,2716.4L1376.5,2716.2L1379.5,2716.0L1382.5,2715.8L1385.5,2715.7L1388.5,2715.5L1391.5,2715.4L1394.5,2715.2L1397.5,2715.1L1400.5,2714.9L1403.5,2714.8L1406.5,2714.7L1409.5,2714.6L1412.5,2714.5L1415.5,2714.4L1418.5,2714.3L1421.5,2714.3L1424.5,2714.2L1427.5,2714.2L1430.5,2714.2L1433.5,2714.2L1436.5,2714.2L1439.5,2714.3L1442.5,2714.4L1445.5,2714.5L1448.5,2714.6L1451.5,2714.7L1454.5,2714.8L1457.5,2714.9L1460.5,2715.1L1463.5,2715.2L1466.5,2715.4L1469.5,2715.5L1472.5,2715.7L1475.5,2715.9L1478.5,2716.0L1481.5,2716.2L1484.5,2716.3L1487.5,2716.5L1490.5,2716.6L1493.5,2716.7L1496.5,2716.8L1499.5,2716.9L1502.5,2716.9L1505.5,2717.0L1508.5,2717.0L1511.5,2717.1L1514.5,2717.1L1517.5,2717.1L1520.5,2717.1L1523.5,2717.2L1526.5,2717.2L1529.5,2717.3L1532.5,2717.4L1535.5,2717.5L1538.5,2717.6L1541.5,2717.8L1544.5,2718.0L1547.5,2718.2L1550.5,2718.4L1553.4,2718.7L1556.4,2718.9L1559.4,2719.2L1562.4,2719.5L1565.4,2719.8L1568.4,2720.0L1571.4,2720.3L1574.4,2720.6L1577.3,2720.9L1580.3,2721.2L1583.3,2721.5L1586.3,2721.8L1589.3,2722.1L1592.3,2722.4L1595.3,2722.7L1598.3,2723.0L1601.2,2723.3L1604.2,2723.5L1607.2,2723.8L1610.2,2724.0L1613.2,2724.3L1616.2,2724.5L1619.2,2724.8L1622.2,2725.0L1625.2,2725.3L1628.2,2725.5L1631.1,2725.8L1634.1,2726.0L1637.1,2726.3L1640.1,2726.5L1643.1,2726.7L1646.1,2726.9L1649.1,2727.2L1652.1,2727.4L1655.1,2727.6L1658.1,2727.8L1661.1,2728.0L1664.1,2728.1L1667.1,2728.3L1670.1,2728.5L1673.1,2728.6L1676.1,2728.8L1679.1,2728.9L1682.1,2729.1L1685.0,2729.2L1688.0,2729.3L1691.0,2729.4L1694.0,2729.5L1697.0,2729.6L1700.0,2729.7L1703.0,2729.8L1706.0,2729.9L1709.0,2730.0L1712.0,2730.1L1715.0,2730.2L1718.0,2730.3L1721.0,2730.4L1724.0,2730.5L1727.0,2730.5L1730.0,2730.6L1733.0,2730.7L1736.0,2730.8L1739.0,2730.9L1742.0,2730.9L1745.0,2731.0L1748.0,2731.1L1751.0,2731.2L1754.0,2731.3L1757.0,2731.4L1760.0,2731.4L1763.0,2731.5L1766.0,2731.6L1769.0,2731.7L1772.0,2731.8L1775.0,2731.9L1778.0,2732.0L1781.0,2732.1L1784.0,2732.2L1787.0,2732.3L1790.0,2732.4L1793.0,2732.6L1796.0,2732.7L1799.0,2732.8L1802.0,2732.9L1805.0,2733.0L1808.0,2733.1L1811.0,2733.2L1814.0,2733.3L1817.0,2733.4L1820.0,2733.5L1823.0,2733.6L1826.0,2733.7L1829.0,2733.8L1832.0,2733.9L1835.0,2734.0L1838.0,2734.1L1841.0,2734.2L1844.0,2734.3L1847.0,2734.4L1850.0,2734.5L1853.0,2734.6L1856.0,2734.7L1859.0,2734.8L1862.0,2734.9L1865.0,2735.0L1868.0,2735.1L1871.0,2735.1L1874.0,2735.2L1877.0,2735.3L1880.0,2735.4L1883.0,2735.5L1886.0,2735.5L1889.0,2735.6L1892.0,2735.7L1895.0,2735.8L1898.0,2735.8L1901.0,2735.9L1904.0,2736.0L1907.0,2736.0L1910.0,2736.1L1913.0,2736.2L1916.0,2736.2L1919.0,2736.3L1922.0,2736.4L1925.0,2736.5L1928.0,2736.5L1931.0,2736.6L1934.0,2736.7L1937.0,2736.7L1940.0,2736.8L1943.0,2736.8L1946.0,2736.8L1949.0,2736.8L1952.0,2736.8L1955.0,2736.8L1958.0,2736.9L1961.0,2736.9L1964.0,2736.9L1967.0,2736.9L1970.0,2736.9L1973.0,2737.0L1976.0,2737.0L1979.0,2737.1L1982.0,2737.2L1985.0,2737.3L1988.0,2737.5L1991.0,2737.7L1994.0,2738.0L1997.0,2738.3L1999.9,2738.8L2002.9,2739.4L2005.8,2740.2L2008.5,2741.3L2011.2,2742.7L2013.7,2744.4L2016.0,2746.2L2018.3,2748.1L2020.6,2750.1L2022.2,2751.3" fill="none" stroke="#ED7D31" stroke-width="17.5" stroke-linecap="round" stroke-linejoin="round"/><rect x="1051" y="1466.5" width="18" height="3" fill="#d6d6d6"/><rect x="2071.5" y="368" width="14" height="70" rx="2" fill="#FFC000"/><text x="164.3" y="122" font-size="82">(A)</text><text x="165" y="1693" font-size="75">(B)</text><text transform="translate(129.5,1324.5) scale(1,1.050)" font-size="75.5" text-anchor="middle">0</text><text transform="translate(119.0,2907.5) scale(1,1.050)" font-size="75.5" text-anchor="middle">0</text><text transform="translate(589.0,1324.5) scale(1,1.050)" font-size="75.5" text-anchor="middle">200</text><text transform="translate(581.5,2907.5) scale(1,1.050)" font-size="75.5" text-anchor="middle">200</text><text transform="translate(1048.5,1324.5) scale(1,1.050)" font-size="75.5" text-anchor="middle">400</text><text transform="translate(1044.0,2907.5) scale(1,1.050)" font-size="75.5" text-anchor="middle">400</text><text transform="translate(1508.0,1324.5) scale(1,1.050)" font-size="75.5" text-anchor="middle">600</text><text transform="translate(1506.5,2907.5) scale(1,1.050)" font-size="75.5" text-anchor="middle">600</text><text transform="translate(1967.5,1324.5) scale(1,1.050)" font-size="75.5" text-anchor="middle">800</text><text transform="translate(1969.0,2907.5) scale(1,1.050)" font-size="75.5" text-anchor="middle">800</text><text transform="translate(923.0,1441.0) scale(1,1.050)" font-size="73.5">Temperature (°C)</text><text transform="translate(921.5,3025.5) scale(1,1.050)" font-size="73.8">Temperature (°C)</text><text transform="translate(89.5,897.0) rotate(-90) scale(1,1.080)" font-size="74.0">Intensity (a.u)</text><text transform="translate(77.0,2463.5) rotate(-90) scale(1,1.080)" font-size="74.0">Intensity (a.u)</text><text transform="translate(189.0,344.5) scale(1,1.030)" font-size="67.4"><tspan>5%Ni-10%CeO</tspan><tspan font-size="42.5" dy="3.0">2</tspan><tspan dy="-3.0"></tspan><tspan>/ZrO</tspan><tspan font-size="42.5" dy="3.0">2</tspan><tspan dy="-3.0"></tspan></text><text transform="translate(215.5,772.0) scale(1,1.030)" font-size="67.0"><tspan>5%Ni/ZrO</tspan><tspan font-size="42.2" dy="3.0">2</tspan><tspan dy="-3.0"></tspan></text><text transform="translate(239.0,1105.5) scale(1,1.030)" font-size="67.0"><tspan>ZrO</tspan><tspan font-size="42.2" dy="3.0">2</tspan><tspan dy="-3.0"></tspan></text><text transform="translate(196.5,2022.5) scale(1,1.030)" font-size="67.3"><tspan>10%NiO/CeZrO</tspan><tspan font-size="42.4" dy="3.0">2</tspan><tspan dy="-3.0"></tspan></text><text transform="translate(193.5,2384.5) scale(1,1.030)" font-size="68.0"><tspan>5%NiO/CeZrO</tspan><tspan font-size="42.8" dy="3.0">2</tspan><tspan dy="-3.0"></tspan></text><text transform="translate(193.5,2709.5) scale(1,1.030)" font-size="67.8"><tspan>Ce</tspan><tspan font-size="42.7" dy="3.0">0,1</tspan><tspan dy="-3.0"></tspan><tspan>Zr</tspan><tspan font-size="42.7" dy="3.0">0.9</tspan><tspan dy="-3.0"></tspan><tspan>O</tspan><tspan font-size="42.7" dy="3.0">2</tspan><tspan dy="-3.0"></tspan><tspan> (CeZrO</tspan><tspan font-size="42.7" dy="3.0">2</tspan><tspan dy="-3.0"></tspan><tspan>)</tspan></text></g></svg></body></html>
